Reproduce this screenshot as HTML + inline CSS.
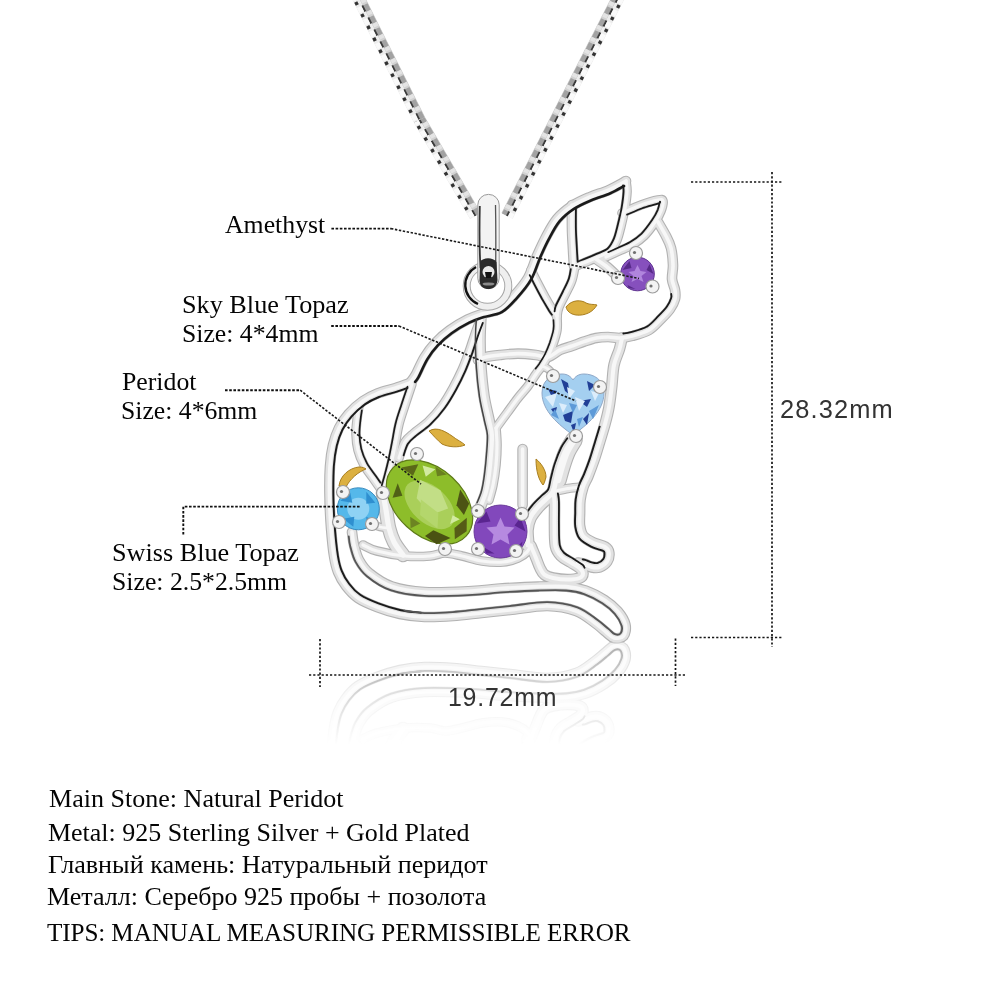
<!DOCTYPE html>
<html><head><meta charset="utf-8">
<style>
html,body{margin:0;padding:0;background:#fff;}
body{width:1000px;height:1000px;position:relative;overflow:hidden;}
</style></head><body>
<svg width="1000" height="1000" viewBox="0 0 1000 1000" style="position:absolute;left:0;top:0"><g transform="translate(357.5,-4) rotate(63.43)"><clipPath id="chc1"><rect x="0" y="-6.5" width="138.6" height="13"/></clipPath><g clip-path="url(#chc1)"><rect x="0" y="-6.5" width="138.6" height="6.5" fill="#d2d2d2"/><rect x="0" y="0" width="138.6" height="6.5" fill="#ededed"/><rect x="-15.9" y="-5.7" width="7.4" height="4.9" fill="#a2a2a2"/><rect x="-8.5" y="-5.7" width="4.0" height="4.9" fill="#e4e4e4"/><rect x="-16.2" y="-1.0" width="6.7" height="2.0" fill="#3a3a3a"/><rect x="-16.2" y="1.0" width="6.0" height="4.9" fill="#fafafa"/><rect x="-8.9" y="2.5" width="3.4" height="3.4" fill="#333"/><rect x="-2.5" y="-5.7" width="7.4" height="4.9" fill="#a2a2a2"/><rect x="4.9" y="-5.7" width="4.0" height="4.9" fill="#e4e4e4"/><rect x="-2.8" y="-1.0" width="6.7" height="2.0" fill="#3a3a3a"/><rect x="-2.8" y="1.0" width="6.0" height="4.9" fill="#fafafa"/><rect x="4.5" y="2.5" width="3.4" height="3.4" fill="#333"/><rect x="10.9" y="-5.7" width="7.4" height="4.9" fill="#a2a2a2"/><rect x="18.3" y="-5.7" width="4.0" height="4.9" fill="#e4e4e4"/><rect x="10.6" y="-1.0" width="6.7" height="2.0" fill="#3a3a3a"/><rect x="10.6" y="1.0" width="6.0" height="4.9" fill="#fafafa"/><rect x="17.9" y="2.5" width="3.4" height="3.4" fill="#333"/><rect x="24.3" y="-5.7" width="7.4" height="4.9" fill="#a2a2a2"/><rect x="31.7" y="-5.7" width="4.0" height="4.9" fill="#e4e4e4"/><rect x="24.0" y="-1.0" width="6.7" height="2.0" fill="#3a3a3a"/><rect x="24.0" y="1.0" width="6.0" height="4.9" fill="#fafafa"/><rect x="31.3" y="2.5" width="3.4" height="3.4" fill="#333"/><rect x="37.7" y="-5.7" width="7.4" height="4.9" fill="#a2a2a2"/><rect x="45.1" y="-5.7" width="4.0" height="4.9" fill="#e4e4e4"/><rect x="37.4" y="-1.0" width="6.7" height="2.0" fill="#3a3a3a"/><rect x="37.4" y="1.0" width="6.0" height="4.9" fill="#fafafa"/><rect x="44.7" y="2.5" width="3.4" height="3.4" fill="#333"/><rect x="51.1" y="-5.7" width="7.4" height="4.9" fill="#a2a2a2"/><rect x="58.5" y="-5.7" width="4.0" height="4.9" fill="#e4e4e4"/><rect x="50.8" y="-1.0" width="6.7" height="2.0" fill="#3a3a3a"/><rect x="50.8" y="1.0" width="6.0" height="4.9" fill="#fafafa"/><rect x="58.1" y="2.5" width="3.4" height="3.4" fill="#333"/><rect x="64.5" y="-5.7" width="7.4" height="4.9" fill="#a2a2a2"/><rect x="71.9" y="-5.7" width="4.0" height="4.9" fill="#e4e4e4"/><rect x="64.2" y="-1.0" width="6.7" height="2.0" fill="#3a3a3a"/><rect x="64.2" y="1.0" width="6.0" height="4.9" fill="#fafafa"/><rect x="71.5" y="2.5" width="3.4" height="3.4" fill="#333"/><rect x="77.9" y="-5.7" width="7.4" height="4.9" fill="#a2a2a2"/><rect x="85.3" y="-5.7" width="4.0" height="4.9" fill="#e4e4e4"/><rect x="77.6" y="-1.0" width="6.7" height="2.0" fill="#3a3a3a"/><rect x="77.6" y="1.0" width="6.0" height="4.9" fill="#fafafa"/><rect x="84.9" y="2.5" width="3.4" height="3.4" fill="#333"/><rect x="91.3" y="-5.7" width="7.4" height="4.9" fill="#a2a2a2"/><rect x="98.7" y="-5.7" width="4.0" height="4.9" fill="#e4e4e4"/><rect x="91.0" y="-1.0" width="6.7" height="2.0" fill="#3a3a3a"/><rect x="91.0" y="1.0" width="6.0" height="4.9" fill="#fafafa"/><rect x="98.3" y="2.5" width="3.4" height="3.4" fill="#333"/><rect x="104.7" y="-5.7" width="7.4" height="4.9" fill="#a2a2a2"/><rect x="112.1" y="-5.7" width="4.0" height="4.9" fill="#e4e4e4"/><rect x="104.4" y="-1.0" width="6.7" height="2.0" fill="#3a3a3a"/><rect x="104.4" y="1.0" width="6.0" height="4.9" fill="#fafafa"/><rect x="111.7" y="2.5" width="3.4" height="3.4" fill="#333"/><rect x="118.1" y="-5.7" width="7.4" height="4.9" fill="#a2a2a2"/><rect x="125.5" y="-5.7" width="4.0" height="4.9" fill="#e4e4e4"/><rect x="117.8" y="-1.0" width="6.7" height="2.0" fill="#3a3a3a"/><rect x="117.8" y="1.0" width="6.0" height="4.9" fill="#fafafa"/><rect x="125.1" y="2.5" width="3.4" height="3.4" fill="#333"/><rect x="131.5" y="-5.7" width="7.4" height="4.9" fill="#a2a2a2"/><rect x="138.9" y="-5.7" width="4.0" height="4.9" fill="#e4e4e4"/><rect x="131.2" y="-1.0" width="6.7" height="2.0" fill="#3a3a3a"/><rect x="131.2" y="1.0" width="6.0" height="4.9" fill="#fafafa"/><rect x="138.5" y="2.5" width="3.4" height="3.4" fill="#333"/><rect x="144.9" y="-5.7" width="7.4" height="4.9" fill="#a2a2a2"/><rect x="152.3" y="-5.7" width="4.0" height="4.9" fill="#e4e4e4"/><rect x="144.6" y="-1.0" width="6.7" height="2.0" fill="#3a3a3a"/><rect x="144.6" y="1.0" width="6.0" height="4.9" fill="#fafafa"/><rect x="151.9" y="2.5" width="3.4" height="3.4" fill="#333"/></g></g><g transform="translate(419.5,120) rotate(59.74)"><clipPath id="chc2"><rect x="0" y="-6.5" width="111.1" height="13"/></clipPath><g clip-path="url(#chc2)"><rect x="0" y="-6.5" width="111.1" height="6.5" fill="#d2d2d2"/><rect x="0" y="0" width="111.1" height="6.5" fill="#ededed"/><rect x="-15.9" y="-5.7" width="7.4" height="4.9" fill="#a2a2a2"/><rect x="-8.5" y="-5.7" width="4.0" height="4.9" fill="#e4e4e4"/><rect x="-16.2" y="-1.0" width="6.7" height="2.0" fill="#3a3a3a"/><rect x="-16.2" y="1.0" width="6.0" height="4.9" fill="#fafafa"/><rect x="-8.9" y="2.5" width="3.4" height="3.4" fill="#333"/><rect x="-2.5" y="-5.7" width="7.4" height="4.9" fill="#a2a2a2"/><rect x="4.9" y="-5.7" width="4.0" height="4.9" fill="#e4e4e4"/><rect x="-2.8" y="-1.0" width="6.7" height="2.0" fill="#3a3a3a"/><rect x="-2.8" y="1.0" width="6.0" height="4.9" fill="#fafafa"/><rect x="4.5" y="2.5" width="3.4" height="3.4" fill="#333"/><rect x="10.9" y="-5.7" width="7.4" height="4.9" fill="#a2a2a2"/><rect x="18.3" y="-5.7" width="4.0" height="4.9" fill="#e4e4e4"/><rect x="10.6" y="-1.0" width="6.7" height="2.0" fill="#3a3a3a"/><rect x="10.6" y="1.0" width="6.0" height="4.9" fill="#fafafa"/><rect x="17.9" y="2.5" width="3.4" height="3.4" fill="#333"/><rect x="24.3" y="-5.7" width="7.4" height="4.9" fill="#a2a2a2"/><rect x="31.7" y="-5.7" width="4.0" height="4.9" fill="#e4e4e4"/><rect x="24.0" y="-1.0" width="6.7" height="2.0" fill="#3a3a3a"/><rect x="24.0" y="1.0" width="6.0" height="4.9" fill="#fafafa"/><rect x="31.3" y="2.5" width="3.4" height="3.4" fill="#333"/><rect x="37.7" y="-5.7" width="7.4" height="4.9" fill="#a2a2a2"/><rect x="45.1" y="-5.7" width="4.0" height="4.9" fill="#e4e4e4"/><rect x="37.4" y="-1.0" width="6.7" height="2.0" fill="#3a3a3a"/><rect x="37.4" y="1.0" width="6.0" height="4.9" fill="#fafafa"/><rect x="44.7" y="2.5" width="3.4" height="3.4" fill="#333"/><rect x="51.1" y="-5.7" width="7.4" height="4.9" fill="#a2a2a2"/><rect x="58.5" y="-5.7" width="4.0" height="4.9" fill="#e4e4e4"/><rect x="50.8" y="-1.0" width="6.7" height="2.0" fill="#3a3a3a"/><rect x="50.8" y="1.0" width="6.0" height="4.9" fill="#fafafa"/><rect x="58.1" y="2.5" width="3.4" height="3.4" fill="#333"/><rect x="64.5" y="-5.7" width="7.4" height="4.9" fill="#a2a2a2"/><rect x="71.9" y="-5.7" width="4.0" height="4.9" fill="#e4e4e4"/><rect x="64.2" y="-1.0" width="6.7" height="2.0" fill="#3a3a3a"/><rect x="64.2" y="1.0" width="6.0" height="4.9" fill="#fafafa"/><rect x="71.5" y="2.5" width="3.4" height="3.4" fill="#333"/><rect x="77.9" y="-5.7" width="7.4" height="4.9" fill="#a2a2a2"/><rect x="85.3" y="-5.7" width="4.0" height="4.9" fill="#e4e4e4"/><rect x="77.6" y="-1.0" width="6.7" height="2.0" fill="#3a3a3a"/><rect x="77.6" y="1.0" width="6.0" height="4.9" fill="#fafafa"/><rect x="84.9" y="2.5" width="3.4" height="3.4" fill="#333"/><rect x="91.3" y="-5.7" width="7.4" height="4.9" fill="#a2a2a2"/><rect x="98.7" y="-5.7" width="4.0" height="4.9" fill="#e4e4e4"/><rect x="91.0" y="-1.0" width="6.7" height="2.0" fill="#3a3a3a"/><rect x="91.0" y="1.0" width="6.0" height="4.9" fill="#fafafa"/><rect x="98.3" y="2.5" width="3.4" height="3.4" fill="#333"/><rect x="104.7" y="-5.7" width="7.4" height="4.9" fill="#a2a2a2"/><rect x="112.1" y="-5.7" width="4.0" height="4.9" fill="#e4e4e4"/><rect x="104.4" y="-1.0" width="6.7" height="2.0" fill="#3a3a3a"/><rect x="104.4" y="1.0" width="6.0" height="4.9" fill="#fafafa"/><rect x="111.7" y="2.5" width="3.4" height="3.4" fill="#333"/><rect x="118.1" y="-5.7" width="7.4" height="4.9" fill="#a2a2a2"/><rect x="125.5" y="-5.7" width="4.0" height="4.9" fill="#e4e4e4"/><rect x="117.8" y="-1.0" width="6.7" height="2.0" fill="#3a3a3a"/><rect x="117.8" y="1.0" width="6.0" height="4.9" fill="#fafafa"/><rect x="125.1" y="2.5" width="3.4" height="3.4" fill="#333"/></g></g><g transform="translate(619,-4) rotate(116.98)"><clipPath id="chc3"><rect x="0" y="-6.5" width="246.9" height="13"/></clipPath><g clip-path="url(#chc3)"><rect x="0" y="0" width="246.9" height="6.5" fill="#d2d2d2"/><rect x="0" y="-6.5" width="246.9" height="6.5" fill="#ededed"/><rect x="-12.4" y="0.8" width="7.4" height="4.9" fill="#a2a2a2"/><rect x="-5.0" y="0.8" width="4.0" height="4.9" fill="#e4e4e4"/><rect x="-12.7" y="-1.0" width="6.7" height="2.0" fill="#3a3a3a"/><rect x="-12.7" y="-5.9" width="6.0" height="4.9" fill="#fafafa"/><rect x="-5.4" y="-5.9" width="3.4" height="3.4" fill="#333"/><rect x="1.0" y="0.8" width="7.4" height="4.9" fill="#a2a2a2"/><rect x="8.4" y="0.8" width="4.0" height="4.9" fill="#e4e4e4"/><rect x="0.7" y="-1.0" width="6.7" height="2.0" fill="#3a3a3a"/><rect x="0.7" y="-5.9" width="6.0" height="4.9" fill="#fafafa"/><rect x="8.0" y="-5.9" width="3.4" height="3.4" fill="#333"/><rect x="14.4" y="0.8" width="7.4" height="4.9" fill="#a2a2a2"/><rect x="21.8" y="0.8" width="4.0" height="4.9" fill="#e4e4e4"/><rect x="14.1" y="-1.0" width="6.7" height="2.0" fill="#3a3a3a"/><rect x="14.1" y="-5.9" width="6.0" height="4.9" fill="#fafafa"/><rect x="21.4" y="-5.9" width="3.4" height="3.4" fill="#333"/><rect x="27.8" y="0.8" width="7.4" height="4.9" fill="#a2a2a2"/><rect x="35.2" y="0.8" width="4.0" height="4.9" fill="#e4e4e4"/><rect x="27.5" y="-1.0" width="6.7" height="2.0" fill="#3a3a3a"/><rect x="27.5" y="-5.9" width="6.0" height="4.9" fill="#fafafa"/><rect x="34.8" y="-5.9" width="3.4" height="3.4" fill="#333"/><rect x="41.2" y="0.8" width="7.4" height="4.9" fill="#a2a2a2"/><rect x="48.6" y="0.8" width="4.0" height="4.9" fill="#e4e4e4"/><rect x="40.9" y="-1.0" width="6.7" height="2.0" fill="#3a3a3a"/><rect x="40.9" y="-5.9" width="6.0" height="4.9" fill="#fafafa"/><rect x="48.2" y="-5.9" width="3.4" height="3.4" fill="#333"/><rect x="54.6" y="0.8" width="7.4" height="4.9" fill="#a2a2a2"/><rect x="62.0" y="0.8" width="4.0" height="4.9" fill="#e4e4e4"/><rect x="54.3" y="-1.0" width="6.7" height="2.0" fill="#3a3a3a"/><rect x="54.3" y="-5.9" width="6.0" height="4.9" fill="#fafafa"/><rect x="61.6" y="-5.9" width="3.4" height="3.4" fill="#333"/><rect x="68.0" y="0.8" width="7.4" height="4.9" fill="#a2a2a2"/><rect x="75.4" y="0.8" width="4.0" height="4.9" fill="#e4e4e4"/><rect x="67.7" y="-1.0" width="6.7" height="2.0" fill="#3a3a3a"/><rect x="67.7" y="-5.9" width="6.0" height="4.9" fill="#fafafa"/><rect x="75.0" y="-5.9" width="3.4" height="3.4" fill="#333"/><rect x="81.4" y="0.8" width="7.4" height="4.9" fill="#a2a2a2"/><rect x="88.8" y="0.8" width="4.0" height="4.9" fill="#e4e4e4"/><rect x="81.1" y="-1.0" width="6.7" height="2.0" fill="#3a3a3a"/><rect x="81.1" y="-5.9" width="6.0" height="4.9" fill="#fafafa"/><rect x="88.4" y="-5.9" width="3.4" height="3.4" fill="#333"/><rect x="94.8" y="0.8" width="7.4" height="4.9" fill="#a2a2a2"/><rect x="102.2" y="0.8" width="4.0" height="4.9" fill="#e4e4e4"/><rect x="94.5" y="-1.0" width="6.7" height="2.0" fill="#3a3a3a"/><rect x="94.5" y="-5.9" width="6.0" height="4.9" fill="#fafafa"/><rect x="101.8" y="-5.9" width="3.4" height="3.4" fill="#333"/><rect x="108.2" y="0.8" width="7.4" height="4.9" fill="#a2a2a2"/><rect x="115.6" y="0.8" width="4.0" height="4.9" fill="#e4e4e4"/><rect x="107.9" y="-1.0" width="6.7" height="2.0" fill="#3a3a3a"/><rect x="107.9" y="-5.9" width="6.0" height="4.9" fill="#fafafa"/><rect x="115.2" y="-5.9" width="3.4" height="3.4" fill="#333"/><rect x="121.6" y="0.8" width="7.4" height="4.9" fill="#a2a2a2"/><rect x="129.0" y="0.8" width="4.0" height="4.9" fill="#e4e4e4"/><rect x="121.3" y="-1.0" width="6.7" height="2.0" fill="#3a3a3a"/><rect x="121.3" y="-5.9" width="6.0" height="4.9" fill="#fafafa"/><rect x="128.6" y="-5.9" width="3.4" height="3.4" fill="#333"/><rect x="135.0" y="0.8" width="7.4" height="4.9" fill="#a2a2a2"/><rect x="142.4" y="0.8" width="4.0" height="4.9" fill="#e4e4e4"/><rect x="134.7" y="-1.0" width="6.7" height="2.0" fill="#3a3a3a"/><rect x="134.7" y="-5.9" width="6.0" height="4.9" fill="#fafafa"/><rect x="142.0" y="-5.9" width="3.4" height="3.4" fill="#333"/><rect x="148.4" y="0.8" width="7.4" height="4.9" fill="#a2a2a2"/><rect x="155.8" y="0.8" width="4.0" height="4.9" fill="#e4e4e4"/><rect x="148.1" y="-1.0" width="6.7" height="2.0" fill="#3a3a3a"/><rect x="148.1" y="-5.9" width="6.0" height="4.9" fill="#fafafa"/><rect x="155.4" y="-5.9" width="3.4" height="3.4" fill="#333"/><rect x="161.8" y="0.8" width="7.4" height="4.9" fill="#a2a2a2"/><rect x="169.2" y="0.8" width="4.0" height="4.9" fill="#e4e4e4"/><rect x="161.5" y="-1.0" width="6.7" height="2.0" fill="#3a3a3a"/><rect x="161.5" y="-5.9" width="6.0" height="4.9" fill="#fafafa"/><rect x="168.8" y="-5.9" width="3.4" height="3.4" fill="#333"/><rect x="175.2" y="0.8" width="7.4" height="4.9" fill="#a2a2a2"/><rect x="182.6" y="0.8" width="4.0" height="4.9" fill="#e4e4e4"/><rect x="174.9" y="-1.0" width="6.7" height="2.0" fill="#3a3a3a"/><rect x="174.9" y="-5.9" width="6.0" height="4.9" fill="#fafafa"/><rect x="182.2" y="-5.9" width="3.4" height="3.4" fill="#333"/><rect x="188.6" y="0.8" width="7.4" height="4.9" fill="#a2a2a2"/><rect x="196.0" y="0.8" width="4.0" height="4.9" fill="#e4e4e4"/><rect x="188.3" y="-1.0" width="6.7" height="2.0" fill="#3a3a3a"/><rect x="188.3" y="-5.9" width="6.0" height="4.9" fill="#fafafa"/><rect x="195.6" y="-5.9" width="3.4" height="3.4" fill="#333"/><rect x="202.0" y="0.8" width="7.4" height="4.9" fill="#a2a2a2"/><rect x="209.4" y="0.8" width="4.0" height="4.9" fill="#e4e4e4"/><rect x="201.7" y="-1.0" width="6.7" height="2.0" fill="#3a3a3a"/><rect x="201.7" y="-5.9" width="6.0" height="4.9" fill="#fafafa"/><rect x="209.0" y="-5.9" width="3.4" height="3.4" fill="#333"/><rect x="215.4" y="0.8" width="7.4" height="4.9" fill="#a2a2a2"/><rect x="222.8" y="0.8" width="4.0" height="4.9" fill="#e4e4e4"/><rect x="215.1" y="-1.0" width="6.7" height="2.0" fill="#3a3a3a"/><rect x="215.1" y="-5.9" width="6.0" height="4.9" fill="#fafafa"/><rect x="222.4" y="-5.9" width="3.4" height="3.4" fill="#333"/><rect x="228.8" y="0.8" width="7.4" height="4.9" fill="#a2a2a2"/><rect x="236.2" y="0.8" width="4.0" height="4.9" fill="#e4e4e4"/><rect x="228.5" y="-1.0" width="6.7" height="2.0" fill="#3a3a3a"/><rect x="228.5" y="-5.9" width="6.0" height="4.9" fill="#fafafa"/><rect x="235.8" y="-5.9" width="3.4" height="3.4" fill="#333"/><rect x="242.2" y="0.8" width="7.4" height="4.9" fill="#a2a2a2"/><rect x="249.6" y="0.8" width="4.0" height="4.9" fill="#e4e4e4"/><rect x="241.9" y="-1.0" width="6.7" height="2.0" fill="#3a3a3a"/><rect x="241.9" y="-5.9" width="6.0" height="4.9" fill="#fafafa"/><rect x="249.2" y="-5.9" width="3.4" height="3.4" fill="#333"/><rect x="255.6" y="0.8" width="7.4" height="4.9" fill="#a2a2a2"/><rect x="263.0" y="0.8" width="4.0" height="4.9" fill="#e4e4e4"/><rect x="255.3" y="-1.0" width="6.7" height="2.0" fill="#3a3a3a"/><rect x="255.3" y="-5.9" width="6.0" height="4.9" fill="#fafafa"/><rect x="262.6" y="-5.9" width="3.4" height="3.4" fill="#333"/></g></g><g id="pend"><g fill="none" stroke-linecap="round" stroke-linejoin="round"><path d="M626.0 181.0 C623.2 182.5 615.0 187.3 609.0 190.0 C603.0 192.7 596.2 194.3 590.0 197.0 C583.8 199.7 577.5 202.3 572.0 206.0 C566.5 209.7 561.3 213.8 557.0 219.0 C552.7 224.2 549.3 230.8 546.0 237.0 C542.7 243.2 540.0 249.2 537.0 256.0 C534.0 262.8 531.8 271.3 528.0 278.0 C524.2 284.7 518.7 290.8 514.0 296.0 C509.3 301.2 505.3 306.0 500.0 309.0 C494.7 312.0 487.4 312.2 482.0 314.0 C476.6 315.8 473.0 316.9 467.6 319.6 C462.2 322.3 455.0 326.5 449.6 330.4 C444.2 334.3 439.4 338.5 435.2 343.0 C431.0 347.5 427.7 352.0 424.4 357.4 C421.1 362.8 417.8 371.1 415.4 375.4 C413.0 379.7 410.9 381.7 410.0 383.0" stroke="#b2b2b2" stroke-width="10.6" /><path d="M410.0 383.0 C407.6 383.8 401.0 386.3 395.6 388.0 C390.2 389.7 383.0 391.2 377.6 393.4 C372.2 395.6 367.9 397.6 363.0 401.0 C358.1 404.4 352.5 409.5 348.5 414.0 C344.5 418.5 341.6 422.8 339.0 428.0 C336.4 433.2 334.5 438.7 333.0 445.0 C331.5 451.3 330.6 457.5 330.0 466.0 C329.4 474.5 329.3 485.7 329.5 496.0 C329.7 506.3 330.2 518.0 331.0 528.0 C331.8 538.0 332.8 548.7 334.0 556.0 C335.2 563.3 336.0 567.0 338.0 572.0 C340.0 577.0 342.7 581.7 346.0 586.0 C349.3 590.3 352.8 594.5 358.0 598.0 C363.2 601.5 370.0 604.3 377.0 607.0 C384.0 609.7 392.1 612.3 400.0 614.0 C407.9 615.7 415.7 616.7 424.5 617.0 C433.3 617.3 443.5 616.7 453.0 616.0 C462.5 615.3 472.0 614.0 481.5 613.0 C491.0 612.0 499.0 611.2 510.0 610.0 C521.0 608.8 536.5 605.8 547.5 606.0 C558.5 606.2 568.1 608.2 576.0 611.0 C583.9 613.8 590.0 619.5 595.0 623.0 C600.0 626.5 602.8 629.5 606.0 632.0 C609.2 634.5 611.1 637.3 614.0 638.0 C616.9 638.7 621.6 638.2 623.5 636.0 C625.4 633.8 626.4 628.7 625.4 624.6 C624.4 620.5 621.3 615.4 617.8 611.3 C614.3 607.2 609.9 603.5 604.5 600.0 C599.1 596.5 591.8 592.6 585.5 590.4 C579.2 588.2 574.4 587.2 566.5 586.6 C558.6 586.0 549.1 586.3 538.0 586.6 C526.9 586.9 511.0 587.8 500.0 588.5 C489.0 589.2 484.6 590.4 472.0 591.0 C459.4 591.6 437.8 592.8 424.5 592.0 C411.2 591.2 401.2 589.6 392.0 586.5 C382.8 583.4 374.9 577.6 369.4 573.2 C363.9 568.8 361.6 564.7 359.0 560.0 C356.4 555.3 355.2 549.7 354.0 545.0 C352.8 540.3 352.3 534.2 352.0 532.0" stroke="#b2b2b2" stroke-width="10.6" /><path d="M626.0 181.0 C626.2 182.8 627.2 187.5 627.0 192.0 C626.8 196.5 626.0 202.3 625.0 208.0 C624.0 213.7 622.3 220.7 621.0 226.0 C619.7 231.3 618.8 235.8 617.0 240.0 C615.2 244.2 613.2 248.2 610.0 251.0 C606.8 253.8 602.0 255.2 598.0 257.0 C594.0 258.8 589.7 260.5 586.0 262.0 C582.3 263.5 577.7 265.3 576.0 266.0" stroke="#b2b2b2" stroke-width="9.6" /><path d="M572.0 205.0 C572.0 209.2 571.8 222.5 572.0 230.0 C572.2 237.5 572.7 244.0 573.0 250.0 C573.3 256.0 573.8 263.3 574.0 266.0" stroke="#b2b2b2" stroke-width="10.6" /><path d="M575.0 266.0 C574.5 268.3 573.5 275.5 572.0 280.0 C570.5 284.5 568.2 288.5 566.0 293.0 C563.8 297.5 560.5 303.2 559.0 307.0 C557.5 310.8 557.3 314.5 557.0 316.0" stroke="#b2b2b2" stroke-width="9.6" /><path d="M531.0 270.0 C532.0 272.0 534.7 277.5 537.0 282.0 C539.3 286.5 542.5 292.5 545.0 297.0 C547.5 301.5 550.0 305.8 552.0 309.0 C554.0 312.2 556.2 314.8 557.0 316.0" stroke="#b2b2b2" stroke-width="9.6" /><path d="M557.0 316.0 C557.0 318.3 557.7 325.3 557.0 330.0 C556.3 334.7 554.5 339.7 553.0 344.0 C551.5 348.3 549.8 352.3 548.0 356.0 C546.2 359.7 544.0 363.0 542.0 366.0 C540.0 369.0 538.3 370.7 536.0 374.0 C533.7 377.3 531.0 382.0 528.0 386.0 C525.0 390.0 521.5 393.5 518.0 398.0 C514.5 402.5 510.7 408.0 507.0 413.0 C503.3 418.0 497.8 425.5 496.0 428.0" stroke="#b2b2b2" stroke-width="9.6" /><path d="M622.0 213.0 C625.2 211.7 635.0 207.2 641.0 205.0 C647.0 202.8 654.3 200.7 658.0 200.0 C661.7 199.3 662.5 199.2 663.0 201.0 C663.5 202.8 662.3 207.5 661.0 211.0 C659.7 214.5 657.8 217.8 655.0 222.0 C652.2 226.2 647.8 232.2 644.0 236.0 C640.2 239.8 636.2 242.5 632.0 245.0 C627.8 247.5 623.3 249.0 619.0 251.0 C614.7 253.0 608.2 256.0 606.0 257.0" stroke="#b2b2b2" stroke-width="9.6" /><path d="M658.0 222.0 C659.3 224.3 663.8 231.7 666.0 236.0 C668.2 240.3 669.8 243.2 671.0 248.0 C672.2 252.8 672.8 259.8 673.0 265.0 C673.2 270.2 671.7 274.8 672.0 279.0 C672.3 283.2 674.5 286.7 675.0 290.0 C675.5 293.3 675.8 295.8 675.0 299.0 C674.2 302.2 672.3 305.7 670.0 309.0 C667.7 312.3 664.5 315.5 661.0 319.0 C657.5 322.5 653.8 327.2 649.0 330.0 C644.2 332.8 636.8 334.7 632.0 336.0 C627.2 337.3 624.0 337.8 620.0 338.0 C616.0 338.2 612.0 337.0 608.0 337.0 C604.0 337.0 600.0 337.2 596.0 338.0 C592.0 338.8 588.0 340.3 584.0 341.6 C580.0 342.9 576.0 344.6 572.0 346.0 C568.0 347.4 564.0 348.2 560.0 350.0 C556.0 351.8 552.0 356.2 548.0 357.0 C544.0 357.8 541.0 355.6 536.0 355.0 C531.0 354.4 524.0 353.6 518.0 353.6 C512.0 353.6 505.3 354.4 500.0 355.0 C494.7 355.6 489.7 356.2 486.0 357.0 C482.3 357.8 479.3 359.5 478.0 360.0" stroke="#b2b2b2" stroke-width="10.6" /><path d="M622.0 338.0 C621.6 339.8 620.8 344.5 619.5 349.0 C618.2 353.5 615.3 358.8 614.0 365.0 C612.7 371.2 612.6 379.0 611.8 386.0 C611.0 393.0 610.1 400.7 609.0 407.0 C607.9 413.3 606.7 417.8 605.0 424.0 C603.3 430.2 600.8 438.0 599.0 444.0 C597.2 450.0 595.8 454.7 594.0 460.0 C592.2 465.3 589.8 471.5 588.0 476.0 C586.2 480.5 584.3 483.0 583.0 487.0 C581.7 491.0 580.6 495.7 580.0 500.0 C579.4 504.3 579.7 508.7 579.6 513.0 C579.5 517.3 579.0 522.2 579.6 526.0 C580.2 529.8 580.8 533.2 583.0 536.0 C585.2 538.8 589.3 540.9 593.0 542.7 C596.7 544.5 602.4 545.4 605.0 547.0 C607.6 548.6 608.5 550.2 608.8 552.6 C609.1 555.0 608.6 559.0 607.0 561.4 C605.4 563.8 601.9 566.1 599.4 567.0 C596.9 567.9 594.3 567.5 591.7 567.0 C589.1 566.5 586.3 564.7 584.0 564.0 C581.7 563.3 579.0 563.2 578.0 563.0" stroke="#b2b2b2" stroke-width="11.6" /><path d="M556.0 491.0 C558.0 490.6 563.8 489.2 568.0 488.5 C572.2 487.8 578.8 487.2 581.0 487.0" stroke="#b2b2b2" stroke-width="9.6" /><path d="M553.0 374.0 C552.2 373.2 549.8 370.3 548.0 369.0 C546.2 367.7 543.0 366.5 542.0 366.0" stroke="#b2b2b2" stroke-width="8.6" /><path d="M574.0 438.0 C572.7 440.0 568.3 445.5 566.0 450.0 C563.7 454.5 561.7 460.0 560.0 465.0 C558.3 470.0 557.2 475.5 556.0 480.0 C554.8 484.5 554.7 488.8 553.0 492.0 C551.3 495.2 548.7 496.3 546.0 499.0 C543.3 501.7 539.7 504.8 537.0 508.0 C534.3 511.2 531.7 514.3 530.0 518.0 C528.3 521.7 527.3 525.5 527.0 530.0 C526.7 534.5 527.8 542.5 528.0 545.0" stroke="#b2b2b2" stroke-width="13.6" /><path d="M574.0 440.0 C572.8 442.0 569.0 447.7 567.0 452.0 C565.0 456.3 563.5 461.3 562.0 466.0 C560.5 470.7 558.7 477.7 558.0 480.0" stroke="#b2b2b2" stroke-width="17.6" /><path d="M553.0 490.0 C553.2 492.0 554.2 496.3 554.5 502.0 C554.8 507.7 554.4 516.7 554.5 524.0 C554.6 531.3 554.3 540.7 555.4 546.0 C556.5 551.3 558.4 553.2 561.0 556.0 C563.6 558.8 567.9 560.5 571.0 562.5 C574.1 564.5 577.6 566.2 579.6 568.0 C581.6 569.8 583.0 571.8 583.0 573.5 C583.0 575.2 582.2 577.0 579.6 578.0 C577.0 579.0 571.9 579.6 567.5 579.6 C563.1 579.6 556.9 578.8 553.0 578.0 C549.1 577.2 546.6 576.3 544.4 574.6 C542.2 572.9 541.4 570.8 540.0 568.0 C538.6 565.2 537.5 561.7 536.0 558.0 C534.5 554.3 531.8 548.0 531.0 546.0" stroke="#b2b2b2" stroke-width="11.6" /><path d="M522.6 449.0 C522.6 458.3 522.6 495.7 522.6 505.0" stroke="#b2b2b2" stroke-width="10.6" /><path d="M363.0 545.0 C365.3 546.0 370.0 549.2 377.0 551.0 C384.0 552.8 396.2 555.2 405.0 556.0 C413.8 556.8 423.3 556.5 430.0 556.0 C436.7 555.5 439.7 553.0 445.0 553.0 C450.3 553.0 455.8 554.7 462.0 556.0 C468.2 557.3 475.2 560.0 482.0 561.0 C488.8 562.0 497.0 562.5 503.0 562.0 C509.0 561.5 514.0 559.7 518.0 558.0 C522.0 556.3 524.8 554.2 527.0 552.0 C529.2 549.8 530.3 546.2 531.0 545.0" stroke="#b2b2b2" stroke-width="9.6" /><path d="M383.0 493.0 C383.5 495.8 385.0 504.2 386.0 510.0 C387.0 515.8 387.7 522.7 389.0 528.0 C390.3 533.3 391.7 537.5 394.0 542.0 C396.3 546.5 401.5 552.8 403.0 555.0" stroke="#b2b2b2" stroke-width="14.6" /><path d="M359.0 406.0 C358.7 408.3 357.5 415.3 357.0 420.0 C356.5 424.7 355.8 429.0 356.0 434.0 C356.2 439.0 356.7 444.8 358.0 450.0 C359.3 455.2 361.5 460.3 364.0 465.0 C366.5 469.7 370.3 474.2 373.0 478.0 C375.7 481.8 378.8 486.3 380.0 488.0" stroke="#b2b2b2" stroke-width="9.6" /><path d="M412.0 384.0 C410.8 387.5 407.2 398.3 405.0 405.0 C402.8 411.7 400.6 417.8 399.0 424.0 C397.4 430.2 396.8 436.0 395.6 442.0 C394.4 448.0 393.3 454.3 392.0 460.0 C390.7 465.7 389.3 471.0 388.0 476.0 C386.7 481.0 384.7 487.7 384.0 490.0" stroke="#b2b2b2" stroke-width="9.6" /><path d="M481.0 318.0 C480.0 320.7 477.0 328.3 475.0 334.0 C473.0 339.7 471.2 346.0 469.0 352.0 C466.8 358.0 464.7 364.0 462.0 370.0 C459.3 376.0 456.3 382.0 453.0 388.0 C449.7 394.0 446.2 400.3 442.0 406.0 C437.8 411.7 432.7 417.5 428.0 422.0 C423.3 426.5 417.8 429.7 414.0 433.0 C410.2 436.3 407.5 437.8 405.0 442.0 C402.5 446.2 400.0 455.3 399.0 458.0" stroke="#b2b2b2" stroke-width="9.6" /><path d="M481.0 316.0 C480.8 320.0 480.0 331.3 480.0 340.0 C480.0 348.7 480.3 358.7 481.0 368.0 C481.7 377.3 482.7 387.3 484.0 396.0 C485.3 404.7 487.7 413.5 489.0 420.0 C490.3 426.5 491.7 429.2 492.0 435.0 C492.3 440.8 491.5 448.3 491.0 455.0 C490.5 461.7 489.8 468.8 489.0 475.0 C488.2 481.2 487.5 486.5 486.0 492.0 C484.5 497.5 481.0 505.3 480.0 508.0" stroke="#b2b2b2" stroke-width="11.6" /><path d="M496.0 428.0 C496.2 430.8 497.0 438.8 497.0 445.0 C497.0 451.2 496.7 458.3 496.0 465.0 C495.3 471.7 494.2 479.2 493.0 485.0 C491.8 490.8 489.7 497.5 489.0 500.0" stroke="#b2b2b2" stroke-width="9.6" /><path d="M372.0 524.0 C373.3 524.5 377.2 526.3 380.0 527.0 C382.8 527.7 387.5 527.8 389.0 528.0" stroke="#b2b2b2" stroke-width="8.6" /><path d="M596.0 259.0 C597.7 260.2 602.5 263.2 606.0 266.0 C609.5 268.8 615.2 274.3 617.0 276.0" stroke="#b2b2b2" stroke-width="10.6" /><path d="M626.0 181.0 C623.2 182.5 615.0 187.3 609.0 190.0 C603.0 192.7 596.2 194.3 590.0 197.0 C583.8 199.7 577.5 202.3 572.0 206.0 C566.5 209.7 561.3 213.8 557.0 219.0 C552.7 224.2 549.3 230.8 546.0 237.0 C542.7 243.2 540.0 249.2 537.0 256.0 C534.0 262.8 531.8 271.3 528.0 278.0 C524.2 284.7 518.7 290.8 514.0 296.0 C509.3 301.2 505.3 306.0 500.0 309.0 C494.7 312.0 487.4 312.2 482.0 314.0 C476.6 315.8 473.0 316.9 467.6 319.6 C462.2 322.3 455.0 326.5 449.6 330.4 C444.2 334.3 439.4 338.5 435.2 343.0 C431.0 347.5 427.7 352.0 424.4 357.4 C421.1 362.8 417.8 371.1 415.4 375.4 C413.0 379.7 410.9 381.7 410.0 383.0" stroke="#e2e2e2" stroke-width="8.4" /><path d="M410.0 383.0 C407.6 383.8 401.0 386.3 395.6 388.0 C390.2 389.7 383.0 391.2 377.6 393.4 C372.2 395.6 367.9 397.6 363.0 401.0 C358.1 404.4 352.5 409.5 348.5 414.0 C344.5 418.5 341.6 422.8 339.0 428.0 C336.4 433.2 334.5 438.7 333.0 445.0 C331.5 451.3 330.6 457.5 330.0 466.0 C329.4 474.5 329.3 485.7 329.5 496.0 C329.7 506.3 330.2 518.0 331.0 528.0 C331.8 538.0 332.8 548.7 334.0 556.0 C335.2 563.3 336.0 567.0 338.0 572.0 C340.0 577.0 342.7 581.7 346.0 586.0 C349.3 590.3 352.8 594.5 358.0 598.0 C363.2 601.5 370.0 604.3 377.0 607.0 C384.0 609.7 392.1 612.3 400.0 614.0 C407.9 615.7 415.7 616.7 424.5 617.0 C433.3 617.3 443.5 616.7 453.0 616.0 C462.5 615.3 472.0 614.0 481.5 613.0 C491.0 612.0 499.0 611.2 510.0 610.0 C521.0 608.8 536.5 605.8 547.5 606.0 C558.5 606.2 568.1 608.2 576.0 611.0 C583.9 613.8 590.0 619.5 595.0 623.0 C600.0 626.5 602.8 629.5 606.0 632.0 C609.2 634.5 611.1 637.3 614.0 638.0 C616.9 638.7 621.6 638.2 623.5 636.0 C625.4 633.8 626.4 628.7 625.4 624.6 C624.4 620.5 621.3 615.4 617.8 611.3 C614.3 607.2 609.9 603.5 604.5 600.0 C599.1 596.5 591.8 592.6 585.5 590.4 C579.2 588.2 574.4 587.2 566.5 586.6 C558.6 586.0 549.1 586.3 538.0 586.6 C526.9 586.9 511.0 587.8 500.0 588.5 C489.0 589.2 484.6 590.4 472.0 591.0 C459.4 591.6 437.8 592.8 424.5 592.0 C411.2 591.2 401.2 589.6 392.0 586.5 C382.8 583.4 374.9 577.6 369.4 573.2 C363.9 568.8 361.6 564.7 359.0 560.0 C356.4 555.3 355.2 549.7 354.0 545.0 C352.8 540.3 352.3 534.2 352.0 532.0" stroke="#e2e2e2" stroke-width="8.4" /><path d="M626.0 181.0 C626.2 182.8 627.2 187.5 627.0 192.0 C626.8 196.5 626.0 202.3 625.0 208.0 C624.0 213.7 622.3 220.7 621.0 226.0 C619.7 231.3 618.8 235.8 617.0 240.0 C615.2 244.2 613.2 248.2 610.0 251.0 C606.8 253.8 602.0 255.2 598.0 257.0 C594.0 258.8 589.7 260.5 586.0 262.0 C582.3 263.5 577.7 265.3 576.0 266.0" stroke="#e2e2e2" stroke-width="7.4" /><path d="M572.0 205.0 C572.0 209.2 571.8 222.5 572.0 230.0 C572.2 237.5 572.7 244.0 573.0 250.0 C573.3 256.0 573.8 263.3 574.0 266.0" stroke="#e2e2e2" stroke-width="8.4" /><path d="M575.0 266.0 C574.5 268.3 573.5 275.5 572.0 280.0 C570.5 284.5 568.2 288.5 566.0 293.0 C563.8 297.5 560.5 303.2 559.0 307.0 C557.5 310.8 557.3 314.5 557.0 316.0" stroke="#e2e2e2" stroke-width="7.4" /><path d="M531.0 270.0 C532.0 272.0 534.7 277.5 537.0 282.0 C539.3 286.5 542.5 292.5 545.0 297.0 C547.5 301.5 550.0 305.8 552.0 309.0 C554.0 312.2 556.2 314.8 557.0 316.0" stroke="#e2e2e2" stroke-width="7.4" /><path d="M557.0 316.0 C557.0 318.3 557.7 325.3 557.0 330.0 C556.3 334.7 554.5 339.7 553.0 344.0 C551.5 348.3 549.8 352.3 548.0 356.0 C546.2 359.7 544.0 363.0 542.0 366.0 C540.0 369.0 538.3 370.7 536.0 374.0 C533.7 377.3 531.0 382.0 528.0 386.0 C525.0 390.0 521.5 393.5 518.0 398.0 C514.5 402.5 510.7 408.0 507.0 413.0 C503.3 418.0 497.8 425.5 496.0 428.0" stroke="#e2e2e2" stroke-width="7.4" /><path d="M622.0 213.0 C625.2 211.7 635.0 207.2 641.0 205.0 C647.0 202.8 654.3 200.7 658.0 200.0 C661.7 199.3 662.5 199.2 663.0 201.0 C663.5 202.8 662.3 207.5 661.0 211.0 C659.7 214.5 657.8 217.8 655.0 222.0 C652.2 226.2 647.8 232.2 644.0 236.0 C640.2 239.8 636.2 242.5 632.0 245.0 C627.8 247.5 623.3 249.0 619.0 251.0 C614.7 253.0 608.2 256.0 606.0 257.0" stroke="#e2e2e2" stroke-width="7.4" /><path d="M658.0 222.0 C659.3 224.3 663.8 231.7 666.0 236.0 C668.2 240.3 669.8 243.2 671.0 248.0 C672.2 252.8 672.8 259.8 673.0 265.0 C673.2 270.2 671.7 274.8 672.0 279.0 C672.3 283.2 674.5 286.7 675.0 290.0 C675.5 293.3 675.8 295.8 675.0 299.0 C674.2 302.2 672.3 305.7 670.0 309.0 C667.7 312.3 664.5 315.5 661.0 319.0 C657.5 322.5 653.8 327.2 649.0 330.0 C644.2 332.8 636.8 334.7 632.0 336.0 C627.2 337.3 624.0 337.8 620.0 338.0 C616.0 338.2 612.0 337.0 608.0 337.0 C604.0 337.0 600.0 337.2 596.0 338.0 C592.0 338.8 588.0 340.3 584.0 341.6 C580.0 342.9 576.0 344.6 572.0 346.0 C568.0 347.4 564.0 348.2 560.0 350.0 C556.0 351.8 552.0 356.2 548.0 357.0 C544.0 357.8 541.0 355.6 536.0 355.0 C531.0 354.4 524.0 353.6 518.0 353.6 C512.0 353.6 505.3 354.4 500.0 355.0 C494.7 355.6 489.7 356.2 486.0 357.0 C482.3 357.8 479.3 359.5 478.0 360.0" stroke="#e2e2e2" stroke-width="8.4" /><path d="M622.0 338.0 C621.6 339.8 620.8 344.5 619.5 349.0 C618.2 353.5 615.3 358.8 614.0 365.0 C612.7 371.2 612.6 379.0 611.8 386.0 C611.0 393.0 610.1 400.7 609.0 407.0 C607.9 413.3 606.7 417.8 605.0 424.0 C603.3 430.2 600.8 438.0 599.0 444.0 C597.2 450.0 595.8 454.7 594.0 460.0 C592.2 465.3 589.8 471.5 588.0 476.0 C586.2 480.5 584.3 483.0 583.0 487.0 C581.7 491.0 580.6 495.7 580.0 500.0 C579.4 504.3 579.7 508.7 579.6 513.0 C579.5 517.3 579.0 522.2 579.6 526.0 C580.2 529.8 580.8 533.2 583.0 536.0 C585.2 538.8 589.3 540.9 593.0 542.7 C596.7 544.5 602.4 545.4 605.0 547.0 C607.6 548.6 608.5 550.2 608.8 552.6 C609.1 555.0 608.6 559.0 607.0 561.4 C605.4 563.8 601.9 566.1 599.4 567.0 C596.9 567.9 594.3 567.5 591.7 567.0 C589.1 566.5 586.3 564.7 584.0 564.0 C581.7 563.3 579.0 563.2 578.0 563.0" stroke="#e2e2e2" stroke-width="9.4" /><path d="M556.0 491.0 C558.0 490.6 563.8 489.2 568.0 488.5 C572.2 487.8 578.8 487.2 581.0 487.0" stroke="#e2e2e2" stroke-width="7.4" /><path d="M553.0 374.0 C552.2 373.2 549.8 370.3 548.0 369.0 C546.2 367.7 543.0 366.5 542.0 366.0" stroke="#e2e2e2" stroke-width="6.4" /><path d="M574.0 438.0 C572.7 440.0 568.3 445.5 566.0 450.0 C563.7 454.5 561.7 460.0 560.0 465.0 C558.3 470.0 557.2 475.5 556.0 480.0 C554.8 484.5 554.7 488.8 553.0 492.0 C551.3 495.2 548.7 496.3 546.0 499.0 C543.3 501.7 539.7 504.8 537.0 508.0 C534.3 511.2 531.7 514.3 530.0 518.0 C528.3 521.7 527.3 525.5 527.0 530.0 C526.7 534.5 527.8 542.5 528.0 545.0" stroke="#e2e2e2" stroke-width="11.4" /><path d="M574.0 440.0 C572.8 442.0 569.0 447.7 567.0 452.0 C565.0 456.3 563.5 461.3 562.0 466.0 C560.5 470.7 558.7 477.7 558.0 480.0" stroke="#e2e2e2" stroke-width="15.4" /><path d="M553.0 490.0 C553.2 492.0 554.2 496.3 554.5 502.0 C554.8 507.7 554.4 516.7 554.5 524.0 C554.6 531.3 554.3 540.7 555.4 546.0 C556.5 551.3 558.4 553.2 561.0 556.0 C563.6 558.8 567.9 560.5 571.0 562.5 C574.1 564.5 577.6 566.2 579.6 568.0 C581.6 569.8 583.0 571.8 583.0 573.5 C583.0 575.2 582.2 577.0 579.6 578.0 C577.0 579.0 571.9 579.6 567.5 579.6 C563.1 579.6 556.9 578.8 553.0 578.0 C549.1 577.2 546.6 576.3 544.4 574.6 C542.2 572.9 541.4 570.8 540.0 568.0 C538.6 565.2 537.5 561.7 536.0 558.0 C534.5 554.3 531.8 548.0 531.0 546.0" stroke="#e2e2e2" stroke-width="9.4" /><path d="M522.6 449.0 C522.6 458.3 522.6 495.7 522.6 505.0" stroke="#e2e2e2" stroke-width="8.4" /><path d="M363.0 545.0 C365.3 546.0 370.0 549.2 377.0 551.0 C384.0 552.8 396.2 555.2 405.0 556.0 C413.8 556.8 423.3 556.5 430.0 556.0 C436.7 555.5 439.7 553.0 445.0 553.0 C450.3 553.0 455.8 554.7 462.0 556.0 C468.2 557.3 475.2 560.0 482.0 561.0 C488.8 562.0 497.0 562.5 503.0 562.0 C509.0 561.5 514.0 559.7 518.0 558.0 C522.0 556.3 524.8 554.2 527.0 552.0 C529.2 549.8 530.3 546.2 531.0 545.0" stroke="#e2e2e2" stroke-width="7.4" /><path d="M383.0 493.0 C383.5 495.8 385.0 504.2 386.0 510.0 C387.0 515.8 387.7 522.7 389.0 528.0 C390.3 533.3 391.7 537.5 394.0 542.0 C396.3 546.5 401.5 552.8 403.0 555.0" stroke="#e2e2e2" stroke-width="12.4" /><path d="M359.0 406.0 C358.7 408.3 357.5 415.3 357.0 420.0 C356.5 424.7 355.8 429.0 356.0 434.0 C356.2 439.0 356.7 444.8 358.0 450.0 C359.3 455.2 361.5 460.3 364.0 465.0 C366.5 469.7 370.3 474.2 373.0 478.0 C375.7 481.8 378.8 486.3 380.0 488.0" stroke="#e2e2e2" stroke-width="7.4" /><path d="M412.0 384.0 C410.8 387.5 407.2 398.3 405.0 405.0 C402.8 411.7 400.6 417.8 399.0 424.0 C397.4 430.2 396.8 436.0 395.6 442.0 C394.4 448.0 393.3 454.3 392.0 460.0 C390.7 465.7 389.3 471.0 388.0 476.0 C386.7 481.0 384.7 487.7 384.0 490.0" stroke="#e2e2e2" stroke-width="7.4" /><path d="M481.0 318.0 C480.0 320.7 477.0 328.3 475.0 334.0 C473.0 339.7 471.2 346.0 469.0 352.0 C466.8 358.0 464.7 364.0 462.0 370.0 C459.3 376.0 456.3 382.0 453.0 388.0 C449.7 394.0 446.2 400.3 442.0 406.0 C437.8 411.7 432.7 417.5 428.0 422.0 C423.3 426.5 417.8 429.7 414.0 433.0 C410.2 436.3 407.5 437.8 405.0 442.0 C402.5 446.2 400.0 455.3 399.0 458.0" stroke="#e2e2e2" stroke-width="7.4" /><path d="M481.0 316.0 C480.8 320.0 480.0 331.3 480.0 340.0 C480.0 348.7 480.3 358.7 481.0 368.0 C481.7 377.3 482.7 387.3 484.0 396.0 C485.3 404.7 487.7 413.5 489.0 420.0 C490.3 426.5 491.7 429.2 492.0 435.0 C492.3 440.8 491.5 448.3 491.0 455.0 C490.5 461.7 489.8 468.8 489.0 475.0 C488.2 481.2 487.5 486.5 486.0 492.0 C484.5 497.5 481.0 505.3 480.0 508.0" stroke="#e2e2e2" stroke-width="9.4" /><path d="M496.0 428.0 C496.2 430.8 497.0 438.8 497.0 445.0 C497.0 451.2 496.7 458.3 496.0 465.0 C495.3 471.7 494.2 479.2 493.0 485.0 C491.8 490.8 489.7 497.5 489.0 500.0" stroke="#e2e2e2" stroke-width="7.4" /><path d="M372.0 524.0 C373.3 524.5 377.2 526.3 380.0 527.0 C382.8 527.7 387.5 527.8 389.0 528.0" stroke="#e2e2e2" stroke-width="6.4" /><path d="M596.0 259.0 C597.7 260.2 602.5 263.2 606.0 266.0 C609.5 268.8 615.2 274.3 617.0 276.0" stroke="#e2e2e2" stroke-width="8.4" /><path d="M626.0 181.0 C623.2 182.5 615.0 187.3 609.0 190.0 C603.0 192.7 596.2 194.3 590.0 197.0 C583.8 199.7 577.5 202.3 572.0 206.0 C566.5 209.7 561.3 213.8 557.0 219.0 C552.7 224.2 549.3 230.8 546.0 237.0 C542.7 243.2 540.0 249.2 537.0 256.0 C534.0 262.8 531.8 271.3 528.0 278.0 C524.2 284.7 518.7 290.8 514.0 296.0 C509.3 301.2 505.3 306.0 500.0 309.0 C494.7 312.0 487.4 312.2 482.0 314.0 C476.6 315.8 473.0 316.9 467.6 319.6 C462.2 322.3 455.0 326.5 449.6 330.4 C444.2 334.3 439.4 338.5 435.2 343.0 C431.0 347.5 427.7 352.0 424.4 357.4 C421.1 362.8 417.8 371.1 415.4 375.4 C413.0 379.7 410.9 381.7 410.0 383.0" stroke="#f7f7f7" stroke-width="3.6" /><path d="M410.0 383.0 C407.6 383.8 401.0 386.3 395.6 388.0 C390.2 389.7 383.0 391.2 377.6 393.4 C372.2 395.6 367.9 397.6 363.0 401.0 C358.1 404.4 352.5 409.5 348.5 414.0 C344.5 418.5 341.6 422.8 339.0 428.0 C336.4 433.2 334.5 438.7 333.0 445.0 C331.5 451.3 330.6 457.5 330.0 466.0 C329.4 474.5 329.3 485.7 329.5 496.0 C329.7 506.3 330.2 518.0 331.0 528.0 C331.8 538.0 332.8 548.7 334.0 556.0 C335.2 563.3 336.0 567.0 338.0 572.0 C340.0 577.0 342.7 581.7 346.0 586.0 C349.3 590.3 352.8 594.5 358.0 598.0 C363.2 601.5 370.0 604.3 377.0 607.0 C384.0 609.7 392.1 612.3 400.0 614.0 C407.9 615.7 415.7 616.7 424.5 617.0 C433.3 617.3 443.5 616.7 453.0 616.0 C462.5 615.3 472.0 614.0 481.5 613.0 C491.0 612.0 499.0 611.2 510.0 610.0 C521.0 608.8 536.5 605.8 547.5 606.0 C558.5 606.2 568.1 608.2 576.0 611.0 C583.9 613.8 590.0 619.5 595.0 623.0 C600.0 626.5 602.8 629.5 606.0 632.0 C609.2 634.5 611.1 637.3 614.0 638.0 C616.9 638.7 621.6 638.2 623.5 636.0 C625.4 633.8 626.4 628.7 625.4 624.6 C624.4 620.5 621.3 615.4 617.8 611.3 C614.3 607.2 609.9 603.5 604.5 600.0 C599.1 596.5 591.8 592.6 585.5 590.4 C579.2 588.2 574.4 587.2 566.5 586.6 C558.6 586.0 549.1 586.3 538.0 586.6 C526.9 586.9 511.0 587.8 500.0 588.5 C489.0 589.2 484.6 590.4 472.0 591.0 C459.4 591.6 437.8 592.8 424.5 592.0 C411.2 591.2 401.2 589.6 392.0 586.5 C382.8 583.4 374.9 577.6 369.4 573.2 C363.9 568.8 361.6 564.7 359.0 560.0 C356.4 555.3 355.2 549.7 354.0 545.0 C352.8 540.3 352.3 534.2 352.0 532.0" stroke="#f7f7f7" stroke-width="3.6" /><path d="M626.0 181.0 C626.2 182.8 627.2 187.5 627.0 192.0 C626.8 196.5 626.0 202.3 625.0 208.0 C624.0 213.7 622.3 220.7 621.0 226.0 C619.7 231.3 618.8 235.8 617.0 240.0 C615.2 244.2 613.2 248.2 610.0 251.0 C606.8 253.8 602.0 255.2 598.0 257.0 C594.0 258.8 589.7 260.5 586.0 262.0 C582.3 263.5 577.7 265.3 576.0 266.0" stroke="#f7f7f7" stroke-width="3.2" /><path d="M572.0 205.0 C572.0 209.2 571.8 222.5 572.0 230.0 C572.2 237.5 572.7 244.0 573.0 250.0 C573.3 256.0 573.8 263.3 574.0 266.0" stroke="#f7f7f7" stroke-width="3.6" /><path d="M575.0 266.0 C574.5 268.3 573.5 275.5 572.0 280.0 C570.5 284.5 568.2 288.5 566.0 293.0 C563.8 297.5 560.5 303.2 559.0 307.0 C557.5 310.8 557.3 314.5 557.0 316.0" stroke="#f7f7f7" stroke-width="3.2" /><path d="M531.0 270.0 C532.0 272.0 534.7 277.5 537.0 282.0 C539.3 286.5 542.5 292.5 545.0 297.0 C547.5 301.5 550.0 305.8 552.0 309.0 C554.0 312.2 556.2 314.8 557.0 316.0" stroke="#f7f7f7" stroke-width="3.2" /><path d="M557.0 316.0 C557.0 318.3 557.7 325.3 557.0 330.0 C556.3 334.7 554.5 339.7 553.0 344.0 C551.5 348.3 549.8 352.3 548.0 356.0 C546.2 359.7 544.0 363.0 542.0 366.0 C540.0 369.0 538.3 370.7 536.0 374.0 C533.7 377.3 531.0 382.0 528.0 386.0 C525.0 390.0 521.5 393.5 518.0 398.0 C514.5 402.5 510.7 408.0 507.0 413.0 C503.3 418.0 497.8 425.5 496.0 428.0" stroke="#f7f7f7" stroke-width="3.2" /><path d="M622.0 213.0 C625.2 211.7 635.0 207.2 641.0 205.0 C647.0 202.8 654.3 200.7 658.0 200.0 C661.7 199.3 662.5 199.2 663.0 201.0 C663.5 202.8 662.3 207.5 661.0 211.0 C659.7 214.5 657.8 217.8 655.0 222.0 C652.2 226.2 647.8 232.2 644.0 236.0 C640.2 239.8 636.2 242.5 632.0 245.0 C627.8 247.5 623.3 249.0 619.0 251.0 C614.7 253.0 608.2 256.0 606.0 257.0" stroke="#f7f7f7" stroke-width="3.2" /><path d="M658.0 222.0 C659.3 224.3 663.8 231.7 666.0 236.0 C668.2 240.3 669.8 243.2 671.0 248.0 C672.2 252.8 672.8 259.8 673.0 265.0 C673.2 270.2 671.7 274.8 672.0 279.0 C672.3 283.2 674.5 286.7 675.0 290.0 C675.5 293.3 675.8 295.8 675.0 299.0 C674.2 302.2 672.3 305.7 670.0 309.0 C667.7 312.3 664.5 315.5 661.0 319.0 C657.5 322.5 653.8 327.2 649.0 330.0 C644.2 332.8 636.8 334.7 632.0 336.0 C627.2 337.3 624.0 337.8 620.0 338.0 C616.0 338.2 612.0 337.0 608.0 337.0 C604.0 337.0 600.0 337.2 596.0 338.0 C592.0 338.8 588.0 340.3 584.0 341.6 C580.0 342.9 576.0 344.6 572.0 346.0 C568.0 347.4 564.0 348.2 560.0 350.0 C556.0 351.8 552.0 356.2 548.0 357.0 C544.0 357.8 541.0 355.6 536.0 355.0 C531.0 354.4 524.0 353.6 518.0 353.6 C512.0 353.6 505.3 354.4 500.0 355.0 C494.7 355.6 489.7 356.2 486.0 357.0 C482.3 357.8 479.3 359.5 478.0 360.0" stroke="#f7f7f7" stroke-width="3.6" /><path d="M622.0 338.0 C621.6 339.8 620.8 344.5 619.5 349.0 C618.2 353.5 615.3 358.8 614.0 365.0 C612.7 371.2 612.6 379.0 611.8 386.0 C611.0 393.0 610.1 400.7 609.0 407.0 C607.9 413.3 606.7 417.8 605.0 424.0 C603.3 430.2 600.8 438.0 599.0 444.0 C597.2 450.0 595.8 454.7 594.0 460.0 C592.2 465.3 589.8 471.5 588.0 476.0 C586.2 480.5 584.3 483.0 583.0 487.0 C581.7 491.0 580.6 495.7 580.0 500.0 C579.4 504.3 579.7 508.7 579.6 513.0 C579.5 517.3 579.0 522.2 579.6 526.0 C580.2 529.8 580.8 533.2 583.0 536.0 C585.2 538.8 589.3 540.9 593.0 542.7 C596.7 544.5 602.4 545.4 605.0 547.0 C607.6 548.6 608.5 550.2 608.8 552.6 C609.1 555.0 608.6 559.0 607.0 561.4 C605.4 563.8 601.9 566.1 599.4 567.0 C596.9 567.9 594.3 567.5 591.7 567.0 C589.1 566.5 586.3 564.7 584.0 564.0 C581.7 563.3 579.0 563.2 578.0 563.0" stroke="#f7f7f7" stroke-width="4.0" /><path d="M556.0 491.0 C558.0 490.6 563.8 489.2 568.0 488.5 C572.2 487.8 578.8 487.2 581.0 487.0" stroke="#f7f7f7" stroke-width="3.2" /><path d="M553.0 374.0 C552.2 373.2 549.8 370.3 548.0 369.0 C546.2 367.7 543.0 366.5 542.0 366.0" stroke="#f7f7f7" stroke-width="2.8000000000000003" /><path d="M574.0 438.0 C572.7 440.0 568.3 445.5 566.0 450.0 C563.7 454.5 561.7 460.0 560.0 465.0 C558.3 470.0 557.2 475.5 556.0 480.0 C554.8 484.5 554.7 488.8 553.0 492.0 C551.3 495.2 548.7 496.3 546.0 499.0 C543.3 501.7 539.7 504.8 537.0 508.0 C534.3 511.2 531.7 514.3 530.0 518.0 C528.3 521.7 527.3 525.5 527.0 530.0 C526.7 534.5 527.8 542.5 528.0 545.0" stroke="#f7f7f7" stroke-width="4.800000000000001" /><path d="M574.0 440.0 C572.8 442.0 569.0 447.7 567.0 452.0 C565.0 456.3 563.5 461.3 562.0 466.0 C560.5 470.7 558.7 477.7 558.0 480.0" stroke="#f7f7f7" stroke-width="6.4" /><path d="M553.0 490.0 C553.2 492.0 554.2 496.3 554.5 502.0 C554.8 507.7 554.4 516.7 554.5 524.0 C554.6 531.3 554.3 540.7 555.4 546.0 C556.5 551.3 558.4 553.2 561.0 556.0 C563.6 558.8 567.9 560.5 571.0 562.5 C574.1 564.5 577.6 566.2 579.6 568.0 C581.6 569.8 583.0 571.8 583.0 573.5 C583.0 575.2 582.2 577.0 579.6 578.0 C577.0 579.0 571.9 579.6 567.5 579.6 C563.1 579.6 556.9 578.8 553.0 578.0 C549.1 577.2 546.6 576.3 544.4 574.6 C542.2 572.9 541.4 570.8 540.0 568.0 C538.6 565.2 537.5 561.7 536.0 558.0 C534.5 554.3 531.8 548.0 531.0 546.0" stroke="#f7f7f7" stroke-width="4.0" /><path d="M522.6 449.0 C522.6 458.3 522.6 495.7 522.6 505.0" stroke="#f7f7f7" stroke-width="3.6" /><path d="M363.0 545.0 C365.3 546.0 370.0 549.2 377.0 551.0 C384.0 552.8 396.2 555.2 405.0 556.0 C413.8 556.8 423.3 556.5 430.0 556.0 C436.7 555.5 439.7 553.0 445.0 553.0 C450.3 553.0 455.8 554.7 462.0 556.0 C468.2 557.3 475.2 560.0 482.0 561.0 C488.8 562.0 497.0 562.5 503.0 562.0 C509.0 561.5 514.0 559.7 518.0 558.0 C522.0 556.3 524.8 554.2 527.0 552.0 C529.2 549.8 530.3 546.2 531.0 545.0" stroke="#f7f7f7" stroke-width="3.2" /><path d="M383.0 493.0 C383.5 495.8 385.0 504.2 386.0 510.0 C387.0 515.8 387.7 522.7 389.0 528.0 C390.3 533.3 391.7 537.5 394.0 542.0 C396.3 546.5 401.5 552.8 403.0 555.0" stroke="#f7f7f7" stroke-width="5.2" /><path d="M359.0 406.0 C358.7 408.3 357.5 415.3 357.0 420.0 C356.5 424.7 355.8 429.0 356.0 434.0 C356.2 439.0 356.7 444.8 358.0 450.0 C359.3 455.2 361.5 460.3 364.0 465.0 C366.5 469.7 370.3 474.2 373.0 478.0 C375.7 481.8 378.8 486.3 380.0 488.0" stroke="#f7f7f7" stroke-width="3.2" /><path d="M412.0 384.0 C410.8 387.5 407.2 398.3 405.0 405.0 C402.8 411.7 400.6 417.8 399.0 424.0 C397.4 430.2 396.8 436.0 395.6 442.0 C394.4 448.0 393.3 454.3 392.0 460.0 C390.7 465.7 389.3 471.0 388.0 476.0 C386.7 481.0 384.7 487.7 384.0 490.0" stroke="#f7f7f7" stroke-width="3.2" /><path d="M481.0 318.0 C480.0 320.7 477.0 328.3 475.0 334.0 C473.0 339.7 471.2 346.0 469.0 352.0 C466.8 358.0 464.7 364.0 462.0 370.0 C459.3 376.0 456.3 382.0 453.0 388.0 C449.7 394.0 446.2 400.3 442.0 406.0 C437.8 411.7 432.7 417.5 428.0 422.0 C423.3 426.5 417.8 429.7 414.0 433.0 C410.2 436.3 407.5 437.8 405.0 442.0 C402.5 446.2 400.0 455.3 399.0 458.0" stroke="#f7f7f7" stroke-width="3.2" /><path d="M481.0 316.0 C480.8 320.0 480.0 331.3 480.0 340.0 C480.0 348.7 480.3 358.7 481.0 368.0 C481.7 377.3 482.7 387.3 484.0 396.0 C485.3 404.7 487.7 413.5 489.0 420.0 C490.3 426.5 491.7 429.2 492.0 435.0 C492.3 440.8 491.5 448.3 491.0 455.0 C490.5 461.7 489.8 468.8 489.0 475.0 C488.2 481.2 487.5 486.5 486.0 492.0 C484.5 497.5 481.0 505.3 480.0 508.0" stroke="#f7f7f7" stroke-width="4.0" /><path d="M496.0 428.0 C496.2 430.8 497.0 438.8 497.0 445.0 C497.0 451.2 496.7 458.3 496.0 465.0 C495.3 471.7 494.2 479.2 493.0 485.0 C491.8 490.8 489.7 497.5 489.0 500.0" stroke="#f7f7f7" stroke-width="3.2" /><path d="M372.0 524.0 C373.3 524.5 377.2 526.3 380.0 527.0 C382.8 527.7 387.5 527.8 389.0 528.0" stroke="#f7f7f7" stroke-width="2.8000000000000003" /><path d="M596.0 259.0 C597.7 260.2 602.5 263.2 606.0 266.0 C609.5 268.8 615.2 274.3 617.0 276.0" stroke="#f7f7f7" stroke-width="3.6" /><path d="M624.1 186.0 C621.8 187.2 615.9 190.8 610.4 193.2 C605.0 195.6 597.5 197.6 591.4 200.2 C585.3 202.8 579.2 205.4 573.9 208.9 C568.7 212.4 563.8 216.3 559.7 221.2 C555.5 226.2 552.3 232.6 549.1 238.7 C545.8 244.7 543.2 250.6 540.2 257.4 C537.2 264.3 535.0 272.9 531.0 279.7 C527.1 286.6 521.5 293.0 516.6 298.3 C511.7 303.7 507.3 308.9 501.7 312.1 C496.1 315.2 488.5 315.5 483.1 317.3 C477.7 319.1 474.4 320.1 469.2 322.7 C463.9 325.4 456.9 329.5 451.6 333.2 C446.4 337.0 441.8 341.1 437.8 345.4 C433.7 349.7 430.6 353.9 427.4 359.2 C424.2 364.5 420.5 373.4 418.5 377.1 C416.4 380.9 415.7 381.0 415.2 381.8" stroke="#1a1a1a" stroke-width="2.6" /><path d="M407.5 387.9 C405.7 388.6 401.5 390.2 396.8 391.7 C392.0 393.2 384.3 394.9 379.0 397.0 C373.8 399.1 369.8 400.9 365.2 404.1 C360.6 407.4 355.2 412.3 351.4 416.6 C347.6 420.8 344.9 424.8 342.4 429.7 C340.0 434.6 338.2 439.8 336.7 445.9 C335.3 452.0 334.4 457.9 333.8 466.3 C333.3 474.6 333.2 485.7 333.3 495.9 C333.5 506.2 334.1 517.8 334.8 527.7 C335.6 537.6 336.7 548.3 337.8 555.4 C338.9 562.5 339.7 565.9 341.6 570.6 C343.4 575.3 346.0 579.6 349.1 583.7 C352.1 587.7 355.3 591.5 360.2 594.8 C365.0 598.1 371.6 600.8 378.4 603.4 C385.1 606.0 393.7 608.7 400.8 610.2 C407.9 611.8 417.6 612.3 421.0 612.7" stroke="#1a1a1a" stroke-width="1.9" /><path d="M404.4 610.6 C407.8 611.0 416.6 612.9 424.6 613.1 C432.7 613.4 443.3 612.8 452.7 612.1 C462.1 611.4 471.6 610.1 481.1 609.1 C490.6 608.1 498.5 607.3 509.6 606.1 C520.7 605.0 536.3 601.9 547.6 602.1 C558.8 602.3 569.0 604.4 577.3 607.3 C585.6 610.3 592.1 616.2 597.2 619.8 C602.4 623.4 605.5 626.5 608.4 628.9 C611.4 631.3 612.9 633.4 614.9 634.2 C616.9 635.0 619.4 634.9 620.5 633.5 C621.7 632.0 622.6 628.8 621.6 625.5 C620.6 622.2 618.0 617.5 614.8 613.8 C611.6 610.1 607.5 606.6 602.4 603.3 C597.3 600.0 590.2 596.2 584.2 594.1 C578.2 591.9 573.9 591.1 566.2 590.5 C558.5 589.9 549.1 590.2 538.1 590.5 C527.1 590.8 511.2 591.7 500.3 592.4 C489.3 593.1 484.8 594.3 472.2 594.9 C459.5 595.5 437.9 596.7 424.3 595.9 C410.7 595.1 400.3 593.5 390.7 590.2 C381.2 586.9 372.8 581.0 367.0 576.2 C361.1 571.5 358.4 566.9 355.6 561.9 C352.8 556.8 351.4 550.2 350.2 545.9 C349.1 541.7 349.0 538.1 348.8 536.5" stroke="#555" stroke-width="1.8" /><path d="M623.0 185.3 C623.1 186.4 623.8 188.2 623.6 191.9 C623.4 195.6 622.6 201.9 621.7 207.4 C620.7 213.0 619.0 220.0 617.7 225.2 C616.4 230.4 615.5 234.7 613.9 238.6 C612.2 242.5 610.6 245.9 607.7 248.5 C604.8 251.0 600.4 252.2 596.6 253.9 C592.7 255.6 587.7 257.6 584.7 258.9 C581.7 260.1 579.5 260.9 578.5 261.4" stroke="#1a1a1a" stroke-width="1.8" /><path d="M575.9 209.0 C575.9 212.5 575.7 223.1 575.9 229.9 C576.1 236.7 576.6 244.5 576.9 249.8 C577.2 255.1 577.5 259.8 577.6 261.8" stroke="#1a1a1a" stroke-width="1.8" /><path d="M570.8 269.2 C570.5 270.8 570.1 275.2 568.8 278.9 C567.5 282.6 565.1 287.1 562.9 291.5 C560.8 296.0 557.2 302.5 555.8 305.8 C554.4 309.1 554.8 310.4 554.6 311.4" stroke="#1a1a1a" stroke-width="1.8" /><path d="M529.7 275.1 C530.5 276.5 531.9 279.6 534.0 283.6 C536.0 287.5 539.5 294.1 542.0 298.7 C544.6 303.2 547.5 308.1 549.1 310.8 C550.8 313.5 551.4 314.1 551.9 314.7" stroke="#1a1a1a" stroke-width="1.8" /><path d="M553.5 320.0 C553.5 321.6 554.2 325.7 553.5 329.5 C552.9 333.3 551.1 338.7 549.7 342.9 C548.2 347.0 546.6 350.9 544.9 354.4 C543.1 358.0 540.6 361.7 539.1 364.1 C537.5 366.4 536.2 367.9 535.6 368.7" stroke="#1a1a1a" stroke-width="1.6" /><path d="M627.0 214.6 C629.5 213.6 636.9 210.1 642.2 208.2 C647.4 206.4 655.7 204.5 658.6 203.4 C661.5 202.3 659.8 200.8 659.7 201.9 C659.5 203.0 659.0 206.7 657.8 209.8 C656.5 212.8 654.8 216.1 652.1 220.1 C649.4 224.0 645.2 229.9 641.6 233.6 C637.9 237.2 634.2 239.7 630.2 242.0 C626.2 244.4 621.2 246.2 617.6 247.9 C613.9 249.6 609.7 251.5 608.2 252.2" stroke="#1a1a1a" stroke-width="1.7" /><path d="M671.2 294.0 C671.2 294.7 672.0 295.9 671.2 298.0 C670.5 300.1 669.0 303.7 666.8 306.8 C664.6 309.8 661.5 312.9 658.2 316.2 C654.9 319.6 651.6 324.0 647.0 326.6 C642.5 329.3 634.9 331.1 631.0 332.2 C627.0 333.4 624.6 333.3 623.3 333.5" stroke="#1a1a1a" stroke-width="1.8" /><path d="M599.7 426.6 C598.9 429.3 596.5 437.4 594.8 442.7 C593.2 448.1 591.7 453.3 589.9 458.6 C588.1 463.9 585.8 469.9 584.0 474.4 C582.1 478.9 580.3 481.4 578.9 485.6 C577.5 489.8 576.3 494.9 575.7 499.4 C575.1 504.0 575.3 508.4 575.3 512.9 C575.2 517.5 574.6 522.3 575.3 526.6 C576.0 530.9 577.0 535.4 579.6 538.7 C582.2 542.0 587.2 544.6 591.1 546.6 C594.9 548.6 600.5 549.6 602.7 550.7 C604.9 551.8 604.4 551.8 604.5 553.2 C604.6 554.6 604.5 557.4 603.4 559.0 C602.3 560.6 599.7 562.3 597.9 562.9 C596.1 563.5 594.6 563.2 592.5 562.7 C590.4 562.2 586.9 560.4 585.2 559.8 C583.6 559.3 583.1 559.5 582.7 559.4" stroke="#1a1a1a" stroke-width="1.9" /><path d="M567.3 438.3 C566.3 439.9 563.3 443.4 561.2 447.5 C559.1 451.7 556.6 458.1 554.9 463.3 C553.1 468.5 551.9 474.3 550.8 478.6 C549.7 483.0 549.7 486.7 548.2 489.5 C546.8 492.2 544.7 492.7 542.2 495.2 C539.6 497.7 535.7 501.1 532.9 504.5 C530.0 508.0 527.0 511.6 525.1 515.8 C523.2 519.9 522.1 525.3 521.6 529.6 C521.2 533.9 522.2 539.4 522.4 541.4" stroke="#1a1a1a" stroke-width="1.8" /><path d="M557.9 493.4 C558.0 494.8 558.7 496.7 558.9 501.8 C559.1 506.9 558.8 516.7 558.9 523.9 C559.0 531.1 558.8 540.3 559.7 545.1 C560.6 550.0 561.9 550.7 564.2 553.0 C566.5 555.3 570.3 556.8 573.4 558.8 C576.4 560.8 580.7 563.3 582.6 564.8 C584.4 566.3 584.2 567.3 584.6 567.8" stroke="#1a1a1a" stroke-width="1.8" /><path d="M361.8 410.4 C361.6 412.1 360.8 416.5 360.4 420.4 C360.0 424.3 359.3 429.1 359.4 433.9 C359.6 438.7 360.1 444.2 361.3 449.1 C362.6 454.1 364.6 458.9 367.0 463.4 C369.5 467.9 373.6 472.8 375.8 476.0 C378.1 479.3 379.7 481.6 380.5 482.7" stroke="#1a1a1a" stroke-width="1.7" /><path d="M407.5 386.7 C406.5 389.6 403.7 397.9 401.7 403.9 C399.8 410.0 397.2 416.9 395.7 423.2 C394.1 429.4 393.4 435.3 392.2 441.3 C391.0 447.4 389.9 453.6 388.6 459.2 C387.4 464.9 385.8 470.8 384.7 475.1 C383.5 479.4 382.3 483.5 381.8 485.2" stroke="#1a1a1a" stroke-width="1.7" /><path d="M482.8 322.9 C482.0 325.0 480.0 330.1 478.2 335.1 C476.4 340.2 474.4 347.1 472.2 353.2 C470.0 359.2 467.8 365.3 465.1 371.4 C462.4 377.5 459.4 383.5 456.0 389.7 C452.6 395.8 449.0 402.2 444.7 408.0 C440.5 413.8 435.1 419.9 430.4 424.4 C425.6 429.0 420.0 432.3 416.2 435.6 C412.5 438.8 410.0 440.4 407.9 443.7 C405.8 447.1 404.3 453.5 403.6 455.4" stroke="#1a1a1a" stroke-width="1.8" /><path d="M476.3 319.8 C476.1 323.2 475.4 331.9 475.4 340.0 C475.5 348.1 475.8 358.9 476.5 368.3 C477.1 377.8 478.2 387.9 479.5 396.7 C480.8 405.5 483.2 414.5 484.5 420.9 C485.9 427.3 487.1 429.6 487.5 435.3 C487.8 440.9 487.0 448.1 486.5 454.7 C486.0 461.2 485.3 468.4 484.5 474.4 C483.7 480.4 482.8 486.1 481.6 490.8 C480.4 495.5 477.9 500.7 477.1 502.7" stroke="#444" stroke-width="1.5" /></g></g><defs><linearGradient id="fade" x1="0" y1="642" x2="0" y2="745" gradientUnits="userSpaceOnUse"><stop offset="0" stop-color="#fff" stop-opacity="0.5"/><stop offset="0.5" stop-color="#fff" stop-opacity="0.18"/><stop offset="1" stop-color="#fff" stop-opacity="0"/></linearGradient><mask id="rm"><rect x="0" y="642" width="1000" height="110" fill="url(#fade)"/></mask></defs><g mask="url(#rm)"><g transform="translate(0,1284) scale(1,-1)"><g fill="none" stroke-linecap="round" stroke-linejoin="round"><path d="M626.0 181.0 C623.2 182.5 615.0 187.3 609.0 190.0 C603.0 192.7 596.2 194.3 590.0 197.0 C583.8 199.7 577.5 202.3 572.0 206.0 C566.5 209.7 561.3 213.8 557.0 219.0 C552.7 224.2 549.3 230.8 546.0 237.0 C542.7 243.2 540.0 249.2 537.0 256.0 C534.0 262.8 531.8 271.3 528.0 278.0 C524.2 284.7 518.7 290.8 514.0 296.0 C509.3 301.2 505.3 306.0 500.0 309.0 C494.7 312.0 487.4 312.2 482.0 314.0 C476.6 315.8 473.0 316.9 467.6 319.6 C462.2 322.3 455.0 326.5 449.6 330.4 C444.2 334.3 439.4 338.5 435.2 343.0 C431.0 347.5 427.7 352.0 424.4 357.4 C421.1 362.8 417.8 371.1 415.4 375.4 C413.0 379.7 410.9 381.7 410.0 383.0" stroke="#b2b2b2" stroke-width="10.6" /><path d="M410.0 383.0 C407.6 383.8 401.0 386.3 395.6 388.0 C390.2 389.7 383.0 391.2 377.6 393.4 C372.2 395.6 367.9 397.6 363.0 401.0 C358.1 404.4 352.5 409.5 348.5 414.0 C344.5 418.5 341.6 422.8 339.0 428.0 C336.4 433.2 334.5 438.7 333.0 445.0 C331.5 451.3 330.6 457.5 330.0 466.0 C329.4 474.5 329.3 485.7 329.5 496.0 C329.7 506.3 330.2 518.0 331.0 528.0 C331.8 538.0 332.8 548.7 334.0 556.0 C335.2 563.3 336.0 567.0 338.0 572.0 C340.0 577.0 342.7 581.7 346.0 586.0 C349.3 590.3 352.8 594.5 358.0 598.0 C363.2 601.5 370.0 604.3 377.0 607.0 C384.0 609.7 392.1 612.3 400.0 614.0 C407.9 615.7 415.7 616.7 424.5 617.0 C433.3 617.3 443.5 616.7 453.0 616.0 C462.5 615.3 472.0 614.0 481.5 613.0 C491.0 612.0 499.0 611.2 510.0 610.0 C521.0 608.8 536.5 605.8 547.5 606.0 C558.5 606.2 568.1 608.2 576.0 611.0 C583.9 613.8 590.0 619.5 595.0 623.0 C600.0 626.5 602.8 629.5 606.0 632.0 C609.2 634.5 611.1 637.3 614.0 638.0 C616.9 638.7 621.6 638.2 623.5 636.0 C625.4 633.8 626.4 628.7 625.4 624.6 C624.4 620.5 621.3 615.4 617.8 611.3 C614.3 607.2 609.9 603.5 604.5 600.0 C599.1 596.5 591.8 592.6 585.5 590.4 C579.2 588.2 574.4 587.2 566.5 586.6 C558.6 586.0 549.1 586.3 538.0 586.6 C526.9 586.9 511.0 587.8 500.0 588.5 C489.0 589.2 484.6 590.4 472.0 591.0 C459.4 591.6 437.8 592.8 424.5 592.0 C411.2 591.2 401.2 589.6 392.0 586.5 C382.8 583.4 374.9 577.6 369.4 573.2 C363.9 568.8 361.6 564.7 359.0 560.0 C356.4 555.3 355.2 549.7 354.0 545.0 C352.8 540.3 352.3 534.2 352.0 532.0" stroke="#b2b2b2" stroke-width="10.6" /><path d="M626.0 181.0 C626.2 182.8 627.2 187.5 627.0 192.0 C626.8 196.5 626.0 202.3 625.0 208.0 C624.0 213.7 622.3 220.7 621.0 226.0 C619.7 231.3 618.8 235.8 617.0 240.0 C615.2 244.2 613.2 248.2 610.0 251.0 C606.8 253.8 602.0 255.2 598.0 257.0 C594.0 258.8 589.7 260.5 586.0 262.0 C582.3 263.5 577.7 265.3 576.0 266.0" stroke="#b2b2b2" stroke-width="9.6" /><path d="M572.0 205.0 C572.0 209.2 571.8 222.5 572.0 230.0 C572.2 237.5 572.7 244.0 573.0 250.0 C573.3 256.0 573.8 263.3 574.0 266.0" stroke="#b2b2b2" stroke-width="10.6" /><path d="M575.0 266.0 C574.5 268.3 573.5 275.5 572.0 280.0 C570.5 284.5 568.2 288.5 566.0 293.0 C563.8 297.5 560.5 303.2 559.0 307.0 C557.5 310.8 557.3 314.5 557.0 316.0" stroke="#b2b2b2" stroke-width="9.6" /><path d="M531.0 270.0 C532.0 272.0 534.7 277.5 537.0 282.0 C539.3 286.5 542.5 292.5 545.0 297.0 C547.5 301.5 550.0 305.8 552.0 309.0 C554.0 312.2 556.2 314.8 557.0 316.0" stroke="#b2b2b2" stroke-width="9.6" /><path d="M557.0 316.0 C557.0 318.3 557.7 325.3 557.0 330.0 C556.3 334.7 554.5 339.7 553.0 344.0 C551.5 348.3 549.8 352.3 548.0 356.0 C546.2 359.7 544.0 363.0 542.0 366.0 C540.0 369.0 538.3 370.7 536.0 374.0 C533.7 377.3 531.0 382.0 528.0 386.0 C525.0 390.0 521.5 393.5 518.0 398.0 C514.5 402.5 510.7 408.0 507.0 413.0 C503.3 418.0 497.8 425.5 496.0 428.0" stroke="#b2b2b2" stroke-width="9.6" /><path d="M622.0 213.0 C625.2 211.7 635.0 207.2 641.0 205.0 C647.0 202.8 654.3 200.7 658.0 200.0 C661.7 199.3 662.5 199.2 663.0 201.0 C663.5 202.8 662.3 207.5 661.0 211.0 C659.7 214.5 657.8 217.8 655.0 222.0 C652.2 226.2 647.8 232.2 644.0 236.0 C640.2 239.8 636.2 242.5 632.0 245.0 C627.8 247.5 623.3 249.0 619.0 251.0 C614.7 253.0 608.2 256.0 606.0 257.0" stroke="#b2b2b2" stroke-width="9.6" /><path d="M658.0 222.0 C659.3 224.3 663.8 231.7 666.0 236.0 C668.2 240.3 669.8 243.2 671.0 248.0 C672.2 252.8 672.8 259.8 673.0 265.0 C673.2 270.2 671.7 274.8 672.0 279.0 C672.3 283.2 674.5 286.7 675.0 290.0 C675.5 293.3 675.8 295.8 675.0 299.0 C674.2 302.2 672.3 305.7 670.0 309.0 C667.7 312.3 664.5 315.5 661.0 319.0 C657.5 322.5 653.8 327.2 649.0 330.0 C644.2 332.8 636.8 334.7 632.0 336.0 C627.2 337.3 624.0 337.8 620.0 338.0 C616.0 338.2 612.0 337.0 608.0 337.0 C604.0 337.0 600.0 337.2 596.0 338.0 C592.0 338.8 588.0 340.3 584.0 341.6 C580.0 342.9 576.0 344.6 572.0 346.0 C568.0 347.4 564.0 348.2 560.0 350.0 C556.0 351.8 552.0 356.2 548.0 357.0 C544.0 357.8 541.0 355.6 536.0 355.0 C531.0 354.4 524.0 353.6 518.0 353.6 C512.0 353.6 505.3 354.4 500.0 355.0 C494.7 355.6 489.7 356.2 486.0 357.0 C482.3 357.8 479.3 359.5 478.0 360.0" stroke="#b2b2b2" stroke-width="10.6" /><path d="M622.0 338.0 C621.6 339.8 620.8 344.5 619.5 349.0 C618.2 353.5 615.3 358.8 614.0 365.0 C612.7 371.2 612.6 379.0 611.8 386.0 C611.0 393.0 610.1 400.7 609.0 407.0 C607.9 413.3 606.7 417.8 605.0 424.0 C603.3 430.2 600.8 438.0 599.0 444.0 C597.2 450.0 595.8 454.7 594.0 460.0 C592.2 465.3 589.8 471.5 588.0 476.0 C586.2 480.5 584.3 483.0 583.0 487.0 C581.7 491.0 580.6 495.7 580.0 500.0 C579.4 504.3 579.7 508.7 579.6 513.0 C579.5 517.3 579.0 522.2 579.6 526.0 C580.2 529.8 580.8 533.2 583.0 536.0 C585.2 538.8 589.3 540.9 593.0 542.7 C596.7 544.5 602.4 545.4 605.0 547.0 C607.6 548.6 608.5 550.2 608.8 552.6 C609.1 555.0 608.6 559.0 607.0 561.4 C605.4 563.8 601.9 566.1 599.4 567.0 C596.9 567.9 594.3 567.5 591.7 567.0 C589.1 566.5 586.3 564.7 584.0 564.0 C581.7 563.3 579.0 563.2 578.0 563.0" stroke="#b2b2b2" stroke-width="11.6" /><path d="M556.0 491.0 C558.0 490.6 563.8 489.2 568.0 488.5 C572.2 487.8 578.8 487.2 581.0 487.0" stroke="#b2b2b2" stroke-width="9.6" /><path d="M553.0 374.0 C552.2 373.2 549.8 370.3 548.0 369.0 C546.2 367.7 543.0 366.5 542.0 366.0" stroke="#b2b2b2" stroke-width="8.6" /><path d="M574.0 438.0 C572.7 440.0 568.3 445.5 566.0 450.0 C563.7 454.5 561.7 460.0 560.0 465.0 C558.3 470.0 557.2 475.5 556.0 480.0 C554.8 484.5 554.7 488.8 553.0 492.0 C551.3 495.2 548.7 496.3 546.0 499.0 C543.3 501.7 539.7 504.8 537.0 508.0 C534.3 511.2 531.7 514.3 530.0 518.0 C528.3 521.7 527.3 525.5 527.0 530.0 C526.7 534.5 527.8 542.5 528.0 545.0" stroke="#b2b2b2" stroke-width="13.6" /><path d="M574.0 440.0 C572.8 442.0 569.0 447.7 567.0 452.0 C565.0 456.3 563.5 461.3 562.0 466.0 C560.5 470.7 558.7 477.7 558.0 480.0" stroke="#b2b2b2" stroke-width="17.6" /><path d="M553.0 490.0 C553.2 492.0 554.2 496.3 554.5 502.0 C554.8 507.7 554.4 516.7 554.5 524.0 C554.6 531.3 554.3 540.7 555.4 546.0 C556.5 551.3 558.4 553.2 561.0 556.0 C563.6 558.8 567.9 560.5 571.0 562.5 C574.1 564.5 577.6 566.2 579.6 568.0 C581.6 569.8 583.0 571.8 583.0 573.5 C583.0 575.2 582.2 577.0 579.6 578.0 C577.0 579.0 571.9 579.6 567.5 579.6 C563.1 579.6 556.9 578.8 553.0 578.0 C549.1 577.2 546.6 576.3 544.4 574.6 C542.2 572.9 541.4 570.8 540.0 568.0 C538.6 565.2 537.5 561.7 536.0 558.0 C534.5 554.3 531.8 548.0 531.0 546.0" stroke="#b2b2b2" stroke-width="11.6" /><path d="M522.6 449.0 C522.6 458.3 522.6 495.7 522.6 505.0" stroke="#b2b2b2" stroke-width="10.6" /><path d="M363.0 545.0 C365.3 546.0 370.0 549.2 377.0 551.0 C384.0 552.8 396.2 555.2 405.0 556.0 C413.8 556.8 423.3 556.5 430.0 556.0 C436.7 555.5 439.7 553.0 445.0 553.0 C450.3 553.0 455.8 554.7 462.0 556.0 C468.2 557.3 475.2 560.0 482.0 561.0 C488.8 562.0 497.0 562.5 503.0 562.0 C509.0 561.5 514.0 559.7 518.0 558.0 C522.0 556.3 524.8 554.2 527.0 552.0 C529.2 549.8 530.3 546.2 531.0 545.0" stroke="#b2b2b2" stroke-width="9.6" /><path d="M383.0 493.0 C383.5 495.8 385.0 504.2 386.0 510.0 C387.0 515.8 387.7 522.7 389.0 528.0 C390.3 533.3 391.7 537.5 394.0 542.0 C396.3 546.5 401.5 552.8 403.0 555.0" stroke="#b2b2b2" stroke-width="14.6" /><path d="M359.0 406.0 C358.7 408.3 357.5 415.3 357.0 420.0 C356.5 424.7 355.8 429.0 356.0 434.0 C356.2 439.0 356.7 444.8 358.0 450.0 C359.3 455.2 361.5 460.3 364.0 465.0 C366.5 469.7 370.3 474.2 373.0 478.0 C375.7 481.8 378.8 486.3 380.0 488.0" stroke="#b2b2b2" stroke-width="9.6" /><path d="M412.0 384.0 C410.8 387.5 407.2 398.3 405.0 405.0 C402.8 411.7 400.6 417.8 399.0 424.0 C397.4 430.2 396.8 436.0 395.6 442.0 C394.4 448.0 393.3 454.3 392.0 460.0 C390.7 465.7 389.3 471.0 388.0 476.0 C386.7 481.0 384.7 487.7 384.0 490.0" stroke="#b2b2b2" stroke-width="9.6" /><path d="M481.0 318.0 C480.0 320.7 477.0 328.3 475.0 334.0 C473.0 339.7 471.2 346.0 469.0 352.0 C466.8 358.0 464.7 364.0 462.0 370.0 C459.3 376.0 456.3 382.0 453.0 388.0 C449.7 394.0 446.2 400.3 442.0 406.0 C437.8 411.7 432.7 417.5 428.0 422.0 C423.3 426.5 417.8 429.7 414.0 433.0 C410.2 436.3 407.5 437.8 405.0 442.0 C402.5 446.2 400.0 455.3 399.0 458.0" stroke="#b2b2b2" stroke-width="9.6" /><path d="M481.0 316.0 C480.8 320.0 480.0 331.3 480.0 340.0 C480.0 348.7 480.3 358.7 481.0 368.0 C481.7 377.3 482.7 387.3 484.0 396.0 C485.3 404.7 487.7 413.5 489.0 420.0 C490.3 426.5 491.7 429.2 492.0 435.0 C492.3 440.8 491.5 448.3 491.0 455.0 C490.5 461.7 489.8 468.8 489.0 475.0 C488.2 481.2 487.5 486.5 486.0 492.0 C484.5 497.5 481.0 505.3 480.0 508.0" stroke="#b2b2b2" stroke-width="11.6" /><path d="M496.0 428.0 C496.2 430.8 497.0 438.8 497.0 445.0 C497.0 451.2 496.7 458.3 496.0 465.0 C495.3 471.7 494.2 479.2 493.0 485.0 C491.8 490.8 489.7 497.5 489.0 500.0" stroke="#b2b2b2" stroke-width="9.6" /><path d="M372.0 524.0 C373.3 524.5 377.2 526.3 380.0 527.0 C382.8 527.7 387.5 527.8 389.0 528.0" stroke="#b2b2b2" stroke-width="8.6" /><path d="M596.0 259.0 C597.7 260.2 602.5 263.2 606.0 266.0 C609.5 268.8 615.2 274.3 617.0 276.0" stroke="#b2b2b2" stroke-width="10.6" /><path d="M626.0 181.0 C623.2 182.5 615.0 187.3 609.0 190.0 C603.0 192.7 596.2 194.3 590.0 197.0 C583.8 199.7 577.5 202.3 572.0 206.0 C566.5 209.7 561.3 213.8 557.0 219.0 C552.7 224.2 549.3 230.8 546.0 237.0 C542.7 243.2 540.0 249.2 537.0 256.0 C534.0 262.8 531.8 271.3 528.0 278.0 C524.2 284.7 518.7 290.8 514.0 296.0 C509.3 301.2 505.3 306.0 500.0 309.0 C494.7 312.0 487.4 312.2 482.0 314.0 C476.6 315.8 473.0 316.9 467.6 319.6 C462.2 322.3 455.0 326.5 449.6 330.4 C444.2 334.3 439.4 338.5 435.2 343.0 C431.0 347.5 427.7 352.0 424.4 357.4 C421.1 362.8 417.8 371.1 415.4 375.4 C413.0 379.7 410.9 381.7 410.0 383.0" stroke="#e2e2e2" stroke-width="8.4" /><path d="M410.0 383.0 C407.6 383.8 401.0 386.3 395.6 388.0 C390.2 389.7 383.0 391.2 377.6 393.4 C372.2 395.6 367.9 397.6 363.0 401.0 C358.1 404.4 352.5 409.5 348.5 414.0 C344.5 418.5 341.6 422.8 339.0 428.0 C336.4 433.2 334.5 438.7 333.0 445.0 C331.5 451.3 330.6 457.5 330.0 466.0 C329.4 474.5 329.3 485.7 329.5 496.0 C329.7 506.3 330.2 518.0 331.0 528.0 C331.8 538.0 332.8 548.7 334.0 556.0 C335.2 563.3 336.0 567.0 338.0 572.0 C340.0 577.0 342.7 581.7 346.0 586.0 C349.3 590.3 352.8 594.5 358.0 598.0 C363.2 601.5 370.0 604.3 377.0 607.0 C384.0 609.7 392.1 612.3 400.0 614.0 C407.9 615.7 415.7 616.7 424.5 617.0 C433.3 617.3 443.5 616.7 453.0 616.0 C462.5 615.3 472.0 614.0 481.5 613.0 C491.0 612.0 499.0 611.2 510.0 610.0 C521.0 608.8 536.5 605.8 547.5 606.0 C558.5 606.2 568.1 608.2 576.0 611.0 C583.9 613.8 590.0 619.5 595.0 623.0 C600.0 626.5 602.8 629.5 606.0 632.0 C609.2 634.5 611.1 637.3 614.0 638.0 C616.9 638.7 621.6 638.2 623.5 636.0 C625.4 633.8 626.4 628.7 625.4 624.6 C624.4 620.5 621.3 615.4 617.8 611.3 C614.3 607.2 609.9 603.5 604.5 600.0 C599.1 596.5 591.8 592.6 585.5 590.4 C579.2 588.2 574.4 587.2 566.5 586.6 C558.6 586.0 549.1 586.3 538.0 586.6 C526.9 586.9 511.0 587.8 500.0 588.5 C489.0 589.2 484.6 590.4 472.0 591.0 C459.4 591.6 437.8 592.8 424.5 592.0 C411.2 591.2 401.2 589.6 392.0 586.5 C382.8 583.4 374.9 577.6 369.4 573.2 C363.9 568.8 361.6 564.7 359.0 560.0 C356.4 555.3 355.2 549.7 354.0 545.0 C352.8 540.3 352.3 534.2 352.0 532.0" stroke="#e2e2e2" stroke-width="8.4" /><path d="M626.0 181.0 C626.2 182.8 627.2 187.5 627.0 192.0 C626.8 196.5 626.0 202.3 625.0 208.0 C624.0 213.7 622.3 220.7 621.0 226.0 C619.7 231.3 618.8 235.8 617.0 240.0 C615.2 244.2 613.2 248.2 610.0 251.0 C606.8 253.8 602.0 255.2 598.0 257.0 C594.0 258.8 589.7 260.5 586.0 262.0 C582.3 263.5 577.7 265.3 576.0 266.0" stroke="#e2e2e2" stroke-width="7.4" /><path d="M572.0 205.0 C572.0 209.2 571.8 222.5 572.0 230.0 C572.2 237.5 572.7 244.0 573.0 250.0 C573.3 256.0 573.8 263.3 574.0 266.0" stroke="#e2e2e2" stroke-width="8.4" /><path d="M575.0 266.0 C574.5 268.3 573.5 275.5 572.0 280.0 C570.5 284.5 568.2 288.5 566.0 293.0 C563.8 297.5 560.5 303.2 559.0 307.0 C557.5 310.8 557.3 314.5 557.0 316.0" stroke="#e2e2e2" stroke-width="7.4" /><path d="M531.0 270.0 C532.0 272.0 534.7 277.5 537.0 282.0 C539.3 286.5 542.5 292.5 545.0 297.0 C547.5 301.5 550.0 305.8 552.0 309.0 C554.0 312.2 556.2 314.8 557.0 316.0" stroke="#e2e2e2" stroke-width="7.4" /><path d="M557.0 316.0 C557.0 318.3 557.7 325.3 557.0 330.0 C556.3 334.7 554.5 339.7 553.0 344.0 C551.5 348.3 549.8 352.3 548.0 356.0 C546.2 359.7 544.0 363.0 542.0 366.0 C540.0 369.0 538.3 370.7 536.0 374.0 C533.7 377.3 531.0 382.0 528.0 386.0 C525.0 390.0 521.5 393.5 518.0 398.0 C514.5 402.5 510.7 408.0 507.0 413.0 C503.3 418.0 497.8 425.5 496.0 428.0" stroke="#e2e2e2" stroke-width="7.4" /><path d="M622.0 213.0 C625.2 211.7 635.0 207.2 641.0 205.0 C647.0 202.8 654.3 200.7 658.0 200.0 C661.7 199.3 662.5 199.2 663.0 201.0 C663.5 202.8 662.3 207.5 661.0 211.0 C659.7 214.5 657.8 217.8 655.0 222.0 C652.2 226.2 647.8 232.2 644.0 236.0 C640.2 239.8 636.2 242.5 632.0 245.0 C627.8 247.5 623.3 249.0 619.0 251.0 C614.7 253.0 608.2 256.0 606.0 257.0" stroke="#e2e2e2" stroke-width="7.4" /><path d="M658.0 222.0 C659.3 224.3 663.8 231.7 666.0 236.0 C668.2 240.3 669.8 243.2 671.0 248.0 C672.2 252.8 672.8 259.8 673.0 265.0 C673.2 270.2 671.7 274.8 672.0 279.0 C672.3 283.2 674.5 286.7 675.0 290.0 C675.5 293.3 675.8 295.8 675.0 299.0 C674.2 302.2 672.3 305.7 670.0 309.0 C667.7 312.3 664.5 315.5 661.0 319.0 C657.5 322.5 653.8 327.2 649.0 330.0 C644.2 332.8 636.8 334.7 632.0 336.0 C627.2 337.3 624.0 337.8 620.0 338.0 C616.0 338.2 612.0 337.0 608.0 337.0 C604.0 337.0 600.0 337.2 596.0 338.0 C592.0 338.8 588.0 340.3 584.0 341.6 C580.0 342.9 576.0 344.6 572.0 346.0 C568.0 347.4 564.0 348.2 560.0 350.0 C556.0 351.8 552.0 356.2 548.0 357.0 C544.0 357.8 541.0 355.6 536.0 355.0 C531.0 354.4 524.0 353.6 518.0 353.6 C512.0 353.6 505.3 354.4 500.0 355.0 C494.7 355.6 489.7 356.2 486.0 357.0 C482.3 357.8 479.3 359.5 478.0 360.0" stroke="#e2e2e2" stroke-width="8.4" /><path d="M622.0 338.0 C621.6 339.8 620.8 344.5 619.5 349.0 C618.2 353.5 615.3 358.8 614.0 365.0 C612.7 371.2 612.6 379.0 611.8 386.0 C611.0 393.0 610.1 400.7 609.0 407.0 C607.9 413.3 606.7 417.8 605.0 424.0 C603.3 430.2 600.8 438.0 599.0 444.0 C597.2 450.0 595.8 454.7 594.0 460.0 C592.2 465.3 589.8 471.5 588.0 476.0 C586.2 480.5 584.3 483.0 583.0 487.0 C581.7 491.0 580.6 495.7 580.0 500.0 C579.4 504.3 579.7 508.7 579.6 513.0 C579.5 517.3 579.0 522.2 579.6 526.0 C580.2 529.8 580.8 533.2 583.0 536.0 C585.2 538.8 589.3 540.9 593.0 542.7 C596.7 544.5 602.4 545.4 605.0 547.0 C607.6 548.6 608.5 550.2 608.8 552.6 C609.1 555.0 608.6 559.0 607.0 561.4 C605.4 563.8 601.9 566.1 599.4 567.0 C596.9 567.9 594.3 567.5 591.7 567.0 C589.1 566.5 586.3 564.7 584.0 564.0 C581.7 563.3 579.0 563.2 578.0 563.0" stroke="#e2e2e2" stroke-width="9.4" /><path d="M556.0 491.0 C558.0 490.6 563.8 489.2 568.0 488.5 C572.2 487.8 578.8 487.2 581.0 487.0" stroke="#e2e2e2" stroke-width="7.4" /><path d="M553.0 374.0 C552.2 373.2 549.8 370.3 548.0 369.0 C546.2 367.7 543.0 366.5 542.0 366.0" stroke="#e2e2e2" stroke-width="6.4" /><path d="M574.0 438.0 C572.7 440.0 568.3 445.5 566.0 450.0 C563.7 454.5 561.7 460.0 560.0 465.0 C558.3 470.0 557.2 475.5 556.0 480.0 C554.8 484.5 554.7 488.8 553.0 492.0 C551.3 495.2 548.7 496.3 546.0 499.0 C543.3 501.7 539.7 504.8 537.0 508.0 C534.3 511.2 531.7 514.3 530.0 518.0 C528.3 521.7 527.3 525.5 527.0 530.0 C526.7 534.5 527.8 542.5 528.0 545.0" stroke="#e2e2e2" stroke-width="11.4" /><path d="M574.0 440.0 C572.8 442.0 569.0 447.7 567.0 452.0 C565.0 456.3 563.5 461.3 562.0 466.0 C560.5 470.7 558.7 477.7 558.0 480.0" stroke="#e2e2e2" stroke-width="15.4" /><path d="M553.0 490.0 C553.2 492.0 554.2 496.3 554.5 502.0 C554.8 507.7 554.4 516.7 554.5 524.0 C554.6 531.3 554.3 540.7 555.4 546.0 C556.5 551.3 558.4 553.2 561.0 556.0 C563.6 558.8 567.9 560.5 571.0 562.5 C574.1 564.5 577.6 566.2 579.6 568.0 C581.6 569.8 583.0 571.8 583.0 573.5 C583.0 575.2 582.2 577.0 579.6 578.0 C577.0 579.0 571.9 579.6 567.5 579.6 C563.1 579.6 556.9 578.8 553.0 578.0 C549.1 577.2 546.6 576.3 544.4 574.6 C542.2 572.9 541.4 570.8 540.0 568.0 C538.6 565.2 537.5 561.7 536.0 558.0 C534.5 554.3 531.8 548.0 531.0 546.0" stroke="#e2e2e2" stroke-width="9.4" /><path d="M522.6 449.0 C522.6 458.3 522.6 495.7 522.6 505.0" stroke="#e2e2e2" stroke-width="8.4" /><path d="M363.0 545.0 C365.3 546.0 370.0 549.2 377.0 551.0 C384.0 552.8 396.2 555.2 405.0 556.0 C413.8 556.8 423.3 556.5 430.0 556.0 C436.7 555.5 439.7 553.0 445.0 553.0 C450.3 553.0 455.8 554.7 462.0 556.0 C468.2 557.3 475.2 560.0 482.0 561.0 C488.8 562.0 497.0 562.5 503.0 562.0 C509.0 561.5 514.0 559.7 518.0 558.0 C522.0 556.3 524.8 554.2 527.0 552.0 C529.2 549.8 530.3 546.2 531.0 545.0" stroke="#e2e2e2" stroke-width="7.4" /><path d="M383.0 493.0 C383.5 495.8 385.0 504.2 386.0 510.0 C387.0 515.8 387.7 522.7 389.0 528.0 C390.3 533.3 391.7 537.5 394.0 542.0 C396.3 546.5 401.5 552.8 403.0 555.0" stroke="#e2e2e2" stroke-width="12.4" /><path d="M359.0 406.0 C358.7 408.3 357.5 415.3 357.0 420.0 C356.5 424.7 355.8 429.0 356.0 434.0 C356.2 439.0 356.7 444.8 358.0 450.0 C359.3 455.2 361.5 460.3 364.0 465.0 C366.5 469.7 370.3 474.2 373.0 478.0 C375.7 481.8 378.8 486.3 380.0 488.0" stroke="#e2e2e2" stroke-width="7.4" /><path d="M412.0 384.0 C410.8 387.5 407.2 398.3 405.0 405.0 C402.8 411.7 400.6 417.8 399.0 424.0 C397.4 430.2 396.8 436.0 395.6 442.0 C394.4 448.0 393.3 454.3 392.0 460.0 C390.7 465.7 389.3 471.0 388.0 476.0 C386.7 481.0 384.7 487.7 384.0 490.0" stroke="#e2e2e2" stroke-width="7.4" /><path d="M481.0 318.0 C480.0 320.7 477.0 328.3 475.0 334.0 C473.0 339.7 471.2 346.0 469.0 352.0 C466.8 358.0 464.7 364.0 462.0 370.0 C459.3 376.0 456.3 382.0 453.0 388.0 C449.7 394.0 446.2 400.3 442.0 406.0 C437.8 411.7 432.7 417.5 428.0 422.0 C423.3 426.5 417.8 429.7 414.0 433.0 C410.2 436.3 407.5 437.8 405.0 442.0 C402.5 446.2 400.0 455.3 399.0 458.0" stroke="#e2e2e2" stroke-width="7.4" /><path d="M481.0 316.0 C480.8 320.0 480.0 331.3 480.0 340.0 C480.0 348.7 480.3 358.7 481.0 368.0 C481.7 377.3 482.7 387.3 484.0 396.0 C485.3 404.7 487.7 413.5 489.0 420.0 C490.3 426.5 491.7 429.2 492.0 435.0 C492.3 440.8 491.5 448.3 491.0 455.0 C490.5 461.7 489.8 468.8 489.0 475.0 C488.2 481.2 487.5 486.5 486.0 492.0 C484.5 497.5 481.0 505.3 480.0 508.0" stroke="#e2e2e2" stroke-width="9.4" /><path d="M496.0 428.0 C496.2 430.8 497.0 438.8 497.0 445.0 C497.0 451.2 496.7 458.3 496.0 465.0 C495.3 471.7 494.2 479.2 493.0 485.0 C491.8 490.8 489.7 497.5 489.0 500.0" stroke="#e2e2e2" stroke-width="7.4" /><path d="M372.0 524.0 C373.3 524.5 377.2 526.3 380.0 527.0 C382.8 527.7 387.5 527.8 389.0 528.0" stroke="#e2e2e2" stroke-width="6.4" /><path d="M596.0 259.0 C597.7 260.2 602.5 263.2 606.0 266.0 C609.5 268.8 615.2 274.3 617.0 276.0" stroke="#e2e2e2" stroke-width="8.4" /><path d="M626.0 181.0 C623.2 182.5 615.0 187.3 609.0 190.0 C603.0 192.7 596.2 194.3 590.0 197.0 C583.8 199.7 577.5 202.3 572.0 206.0 C566.5 209.7 561.3 213.8 557.0 219.0 C552.7 224.2 549.3 230.8 546.0 237.0 C542.7 243.2 540.0 249.2 537.0 256.0 C534.0 262.8 531.8 271.3 528.0 278.0 C524.2 284.7 518.7 290.8 514.0 296.0 C509.3 301.2 505.3 306.0 500.0 309.0 C494.7 312.0 487.4 312.2 482.0 314.0 C476.6 315.8 473.0 316.9 467.6 319.6 C462.2 322.3 455.0 326.5 449.6 330.4 C444.2 334.3 439.4 338.5 435.2 343.0 C431.0 347.5 427.7 352.0 424.4 357.4 C421.1 362.8 417.8 371.1 415.4 375.4 C413.0 379.7 410.9 381.7 410.0 383.0" stroke="#f7f7f7" stroke-width="3.6" /><path d="M410.0 383.0 C407.6 383.8 401.0 386.3 395.6 388.0 C390.2 389.7 383.0 391.2 377.6 393.4 C372.2 395.6 367.9 397.6 363.0 401.0 C358.1 404.4 352.5 409.5 348.5 414.0 C344.5 418.5 341.6 422.8 339.0 428.0 C336.4 433.2 334.5 438.7 333.0 445.0 C331.5 451.3 330.6 457.5 330.0 466.0 C329.4 474.5 329.3 485.7 329.5 496.0 C329.7 506.3 330.2 518.0 331.0 528.0 C331.8 538.0 332.8 548.7 334.0 556.0 C335.2 563.3 336.0 567.0 338.0 572.0 C340.0 577.0 342.7 581.7 346.0 586.0 C349.3 590.3 352.8 594.5 358.0 598.0 C363.2 601.5 370.0 604.3 377.0 607.0 C384.0 609.7 392.1 612.3 400.0 614.0 C407.9 615.7 415.7 616.7 424.5 617.0 C433.3 617.3 443.5 616.7 453.0 616.0 C462.5 615.3 472.0 614.0 481.5 613.0 C491.0 612.0 499.0 611.2 510.0 610.0 C521.0 608.8 536.5 605.8 547.5 606.0 C558.5 606.2 568.1 608.2 576.0 611.0 C583.9 613.8 590.0 619.5 595.0 623.0 C600.0 626.5 602.8 629.5 606.0 632.0 C609.2 634.5 611.1 637.3 614.0 638.0 C616.9 638.7 621.6 638.2 623.5 636.0 C625.4 633.8 626.4 628.7 625.4 624.6 C624.4 620.5 621.3 615.4 617.8 611.3 C614.3 607.2 609.9 603.5 604.5 600.0 C599.1 596.5 591.8 592.6 585.5 590.4 C579.2 588.2 574.4 587.2 566.5 586.6 C558.6 586.0 549.1 586.3 538.0 586.6 C526.9 586.9 511.0 587.8 500.0 588.5 C489.0 589.2 484.6 590.4 472.0 591.0 C459.4 591.6 437.8 592.8 424.5 592.0 C411.2 591.2 401.2 589.6 392.0 586.5 C382.8 583.4 374.9 577.6 369.4 573.2 C363.9 568.8 361.6 564.7 359.0 560.0 C356.4 555.3 355.2 549.7 354.0 545.0 C352.8 540.3 352.3 534.2 352.0 532.0" stroke="#f7f7f7" stroke-width="3.6" /><path d="M626.0 181.0 C626.2 182.8 627.2 187.5 627.0 192.0 C626.8 196.5 626.0 202.3 625.0 208.0 C624.0 213.7 622.3 220.7 621.0 226.0 C619.7 231.3 618.8 235.8 617.0 240.0 C615.2 244.2 613.2 248.2 610.0 251.0 C606.8 253.8 602.0 255.2 598.0 257.0 C594.0 258.8 589.7 260.5 586.0 262.0 C582.3 263.5 577.7 265.3 576.0 266.0" stroke="#f7f7f7" stroke-width="3.2" /><path d="M572.0 205.0 C572.0 209.2 571.8 222.5 572.0 230.0 C572.2 237.5 572.7 244.0 573.0 250.0 C573.3 256.0 573.8 263.3 574.0 266.0" stroke="#f7f7f7" stroke-width="3.6" /><path d="M575.0 266.0 C574.5 268.3 573.5 275.5 572.0 280.0 C570.5 284.5 568.2 288.5 566.0 293.0 C563.8 297.5 560.5 303.2 559.0 307.0 C557.5 310.8 557.3 314.5 557.0 316.0" stroke="#f7f7f7" stroke-width="3.2" /><path d="M531.0 270.0 C532.0 272.0 534.7 277.5 537.0 282.0 C539.3 286.5 542.5 292.5 545.0 297.0 C547.5 301.5 550.0 305.8 552.0 309.0 C554.0 312.2 556.2 314.8 557.0 316.0" stroke="#f7f7f7" stroke-width="3.2" /><path d="M557.0 316.0 C557.0 318.3 557.7 325.3 557.0 330.0 C556.3 334.7 554.5 339.7 553.0 344.0 C551.5 348.3 549.8 352.3 548.0 356.0 C546.2 359.7 544.0 363.0 542.0 366.0 C540.0 369.0 538.3 370.7 536.0 374.0 C533.7 377.3 531.0 382.0 528.0 386.0 C525.0 390.0 521.5 393.5 518.0 398.0 C514.5 402.5 510.7 408.0 507.0 413.0 C503.3 418.0 497.8 425.5 496.0 428.0" stroke="#f7f7f7" stroke-width="3.2" /><path d="M622.0 213.0 C625.2 211.7 635.0 207.2 641.0 205.0 C647.0 202.8 654.3 200.7 658.0 200.0 C661.7 199.3 662.5 199.2 663.0 201.0 C663.5 202.8 662.3 207.5 661.0 211.0 C659.7 214.5 657.8 217.8 655.0 222.0 C652.2 226.2 647.8 232.2 644.0 236.0 C640.2 239.8 636.2 242.5 632.0 245.0 C627.8 247.5 623.3 249.0 619.0 251.0 C614.7 253.0 608.2 256.0 606.0 257.0" stroke="#f7f7f7" stroke-width="3.2" /><path d="M658.0 222.0 C659.3 224.3 663.8 231.7 666.0 236.0 C668.2 240.3 669.8 243.2 671.0 248.0 C672.2 252.8 672.8 259.8 673.0 265.0 C673.2 270.2 671.7 274.8 672.0 279.0 C672.3 283.2 674.5 286.7 675.0 290.0 C675.5 293.3 675.8 295.8 675.0 299.0 C674.2 302.2 672.3 305.7 670.0 309.0 C667.7 312.3 664.5 315.5 661.0 319.0 C657.5 322.5 653.8 327.2 649.0 330.0 C644.2 332.8 636.8 334.7 632.0 336.0 C627.2 337.3 624.0 337.8 620.0 338.0 C616.0 338.2 612.0 337.0 608.0 337.0 C604.0 337.0 600.0 337.2 596.0 338.0 C592.0 338.8 588.0 340.3 584.0 341.6 C580.0 342.9 576.0 344.6 572.0 346.0 C568.0 347.4 564.0 348.2 560.0 350.0 C556.0 351.8 552.0 356.2 548.0 357.0 C544.0 357.8 541.0 355.6 536.0 355.0 C531.0 354.4 524.0 353.6 518.0 353.6 C512.0 353.6 505.3 354.4 500.0 355.0 C494.7 355.6 489.7 356.2 486.0 357.0 C482.3 357.8 479.3 359.5 478.0 360.0" stroke="#f7f7f7" stroke-width="3.6" /><path d="M622.0 338.0 C621.6 339.8 620.8 344.5 619.5 349.0 C618.2 353.5 615.3 358.8 614.0 365.0 C612.7 371.2 612.6 379.0 611.8 386.0 C611.0 393.0 610.1 400.7 609.0 407.0 C607.9 413.3 606.7 417.8 605.0 424.0 C603.3 430.2 600.8 438.0 599.0 444.0 C597.2 450.0 595.8 454.7 594.0 460.0 C592.2 465.3 589.8 471.5 588.0 476.0 C586.2 480.5 584.3 483.0 583.0 487.0 C581.7 491.0 580.6 495.7 580.0 500.0 C579.4 504.3 579.7 508.7 579.6 513.0 C579.5 517.3 579.0 522.2 579.6 526.0 C580.2 529.8 580.8 533.2 583.0 536.0 C585.2 538.8 589.3 540.9 593.0 542.7 C596.7 544.5 602.4 545.4 605.0 547.0 C607.6 548.6 608.5 550.2 608.8 552.6 C609.1 555.0 608.6 559.0 607.0 561.4 C605.4 563.8 601.9 566.1 599.4 567.0 C596.9 567.9 594.3 567.5 591.7 567.0 C589.1 566.5 586.3 564.7 584.0 564.0 C581.7 563.3 579.0 563.2 578.0 563.0" stroke="#f7f7f7" stroke-width="4.0" /><path d="M556.0 491.0 C558.0 490.6 563.8 489.2 568.0 488.5 C572.2 487.8 578.8 487.2 581.0 487.0" stroke="#f7f7f7" stroke-width="3.2" /><path d="M553.0 374.0 C552.2 373.2 549.8 370.3 548.0 369.0 C546.2 367.7 543.0 366.5 542.0 366.0" stroke="#f7f7f7" stroke-width="2.8000000000000003" /><path d="M574.0 438.0 C572.7 440.0 568.3 445.5 566.0 450.0 C563.7 454.5 561.7 460.0 560.0 465.0 C558.3 470.0 557.2 475.5 556.0 480.0 C554.8 484.5 554.7 488.8 553.0 492.0 C551.3 495.2 548.7 496.3 546.0 499.0 C543.3 501.7 539.7 504.8 537.0 508.0 C534.3 511.2 531.7 514.3 530.0 518.0 C528.3 521.7 527.3 525.5 527.0 530.0 C526.7 534.5 527.8 542.5 528.0 545.0" stroke="#f7f7f7" stroke-width="4.800000000000001" /><path d="M574.0 440.0 C572.8 442.0 569.0 447.7 567.0 452.0 C565.0 456.3 563.5 461.3 562.0 466.0 C560.5 470.7 558.7 477.7 558.0 480.0" stroke="#f7f7f7" stroke-width="6.4" /><path d="M553.0 490.0 C553.2 492.0 554.2 496.3 554.5 502.0 C554.8 507.7 554.4 516.7 554.5 524.0 C554.6 531.3 554.3 540.7 555.4 546.0 C556.5 551.3 558.4 553.2 561.0 556.0 C563.6 558.8 567.9 560.5 571.0 562.5 C574.1 564.5 577.6 566.2 579.6 568.0 C581.6 569.8 583.0 571.8 583.0 573.5 C583.0 575.2 582.2 577.0 579.6 578.0 C577.0 579.0 571.9 579.6 567.5 579.6 C563.1 579.6 556.9 578.8 553.0 578.0 C549.1 577.2 546.6 576.3 544.4 574.6 C542.2 572.9 541.4 570.8 540.0 568.0 C538.6 565.2 537.5 561.7 536.0 558.0 C534.5 554.3 531.8 548.0 531.0 546.0" stroke="#f7f7f7" stroke-width="4.0" /><path d="M522.6 449.0 C522.6 458.3 522.6 495.7 522.6 505.0" stroke="#f7f7f7" stroke-width="3.6" /><path d="M363.0 545.0 C365.3 546.0 370.0 549.2 377.0 551.0 C384.0 552.8 396.2 555.2 405.0 556.0 C413.8 556.8 423.3 556.5 430.0 556.0 C436.7 555.5 439.7 553.0 445.0 553.0 C450.3 553.0 455.8 554.7 462.0 556.0 C468.2 557.3 475.2 560.0 482.0 561.0 C488.8 562.0 497.0 562.5 503.0 562.0 C509.0 561.5 514.0 559.7 518.0 558.0 C522.0 556.3 524.8 554.2 527.0 552.0 C529.2 549.8 530.3 546.2 531.0 545.0" stroke="#f7f7f7" stroke-width="3.2" /><path d="M383.0 493.0 C383.5 495.8 385.0 504.2 386.0 510.0 C387.0 515.8 387.7 522.7 389.0 528.0 C390.3 533.3 391.7 537.5 394.0 542.0 C396.3 546.5 401.5 552.8 403.0 555.0" stroke="#f7f7f7" stroke-width="5.2" /><path d="M359.0 406.0 C358.7 408.3 357.5 415.3 357.0 420.0 C356.5 424.7 355.8 429.0 356.0 434.0 C356.2 439.0 356.7 444.8 358.0 450.0 C359.3 455.2 361.5 460.3 364.0 465.0 C366.5 469.7 370.3 474.2 373.0 478.0 C375.7 481.8 378.8 486.3 380.0 488.0" stroke="#f7f7f7" stroke-width="3.2" /><path d="M412.0 384.0 C410.8 387.5 407.2 398.3 405.0 405.0 C402.8 411.7 400.6 417.8 399.0 424.0 C397.4 430.2 396.8 436.0 395.6 442.0 C394.4 448.0 393.3 454.3 392.0 460.0 C390.7 465.7 389.3 471.0 388.0 476.0 C386.7 481.0 384.7 487.7 384.0 490.0" stroke="#f7f7f7" stroke-width="3.2" /><path d="M481.0 318.0 C480.0 320.7 477.0 328.3 475.0 334.0 C473.0 339.7 471.2 346.0 469.0 352.0 C466.8 358.0 464.7 364.0 462.0 370.0 C459.3 376.0 456.3 382.0 453.0 388.0 C449.7 394.0 446.2 400.3 442.0 406.0 C437.8 411.7 432.7 417.5 428.0 422.0 C423.3 426.5 417.8 429.7 414.0 433.0 C410.2 436.3 407.5 437.8 405.0 442.0 C402.5 446.2 400.0 455.3 399.0 458.0" stroke="#f7f7f7" stroke-width="3.2" /><path d="M481.0 316.0 C480.8 320.0 480.0 331.3 480.0 340.0 C480.0 348.7 480.3 358.7 481.0 368.0 C481.7 377.3 482.7 387.3 484.0 396.0 C485.3 404.7 487.7 413.5 489.0 420.0 C490.3 426.5 491.7 429.2 492.0 435.0 C492.3 440.8 491.5 448.3 491.0 455.0 C490.5 461.7 489.8 468.8 489.0 475.0 C488.2 481.2 487.5 486.5 486.0 492.0 C484.5 497.5 481.0 505.3 480.0 508.0" stroke="#f7f7f7" stroke-width="4.0" /><path d="M496.0 428.0 C496.2 430.8 497.0 438.8 497.0 445.0 C497.0 451.2 496.7 458.3 496.0 465.0 C495.3 471.7 494.2 479.2 493.0 485.0 C491.8 490.8 489.7 497.5 489.0 500.0" stroke="#f7f7f7" stroke-width="3.2" /><path d="M372.0 524.0 C373.3 524.5 377.2 526.3 380.0 527.0 C382.8 527.7 387.5 527.8 389.0 528.0" stroke="#f7f7f7" stroke-width="2.8000000000000003" /><path d="M596.0 259.0 C597.7 260.2 602.5 263.2 606.0 266.0 C609.5 268.8 615.2 274.3 617.0 276.0" stroke="#f7f7f7" stroke-width="3.6" /><path d="M624.1 186.0 C621.8 187.2 615.9 190.8 610.4 193.2 C605.0 195.6 597.5 197.6 591.4 200.2 C585.3 202.8 579.2 205.4 573.9 208.9 C568.7 212.4 563.8 216.3 559.7 221.2 C555.5 226.2 552.3 232.6 549.1 238.7 C545.8 244.7 543.2 250.6 540.2 257.4 C537.2 264.3 535.0 272.9 531.0 279.7 C527.1 286.6 521.5 293.0 516.6 298.3 C511.7 303.7 507.3 308.9 501.7 312.1 C496.1 315.2 488.5 315.5 483.1 317.3 C477.7 319.1 474.4 320.1 469.2 322.7 C463.9 325.4 456.9 329.5 451.6 333.2 C446.4 337.0 441.8 341.1 437.8 345.4 C433.7 349.7 430.6 353.9 427.4 359.2 C424.2 364.5 420.5 373.4 418.5 377.1 C416.4 380.9 415.7 381.0 415.2 381.8" stroke="#1a1a1a" stroke-width="2.6" /><path d="M407.5 387.9 C405.7 388.6 401.5 390.2 396.8 391.7 C392.0 393.2 384.3 394.9 379.0 397.0 C373.8 399.1 369.8 400.9 365.2 404.1 C360.6 407.4 355.2 412.3 351.4 416.6 C347.6 420.8 344.9 424.8 342.4 429.7 C340.0 434.6 338.2 439.8 336.7 445.9 C335.3 452.0 334.4 457.9 333.8 466.3 C333.3 474.6 333.2 485.7 333.3 495.9 C333.5 506.2 334.1 517.8 334.8 527.7 C335.6 537.6 336.7 548.3 337.8 555.4 C338.9 562.5 339.7 565.9 341.6 570.6 C343.4 575.3 346.0 579.6 349.1 583.7 C352.1 587.7 355.3 591.5 360.2 594.8 C365.0 598.1 371.6 600.8 378.4 603.4 C385.1 606.0 393.7 608.7 400.8 610.2 C407.9 611.8 417.6 612.3 421.0 612.7" stroke="#1a1a1a" stroke-width="1.9" /><path d="M404.4 610.6 C407.8 611.0 416.6 612.9 424.6 613.1 C432.7 613.4 443.3 612.8 452.7 612.1 C462.1 611.4 471.6 610.1 481.1 609.1 C490.6 608.1 498.5 607.3 509.6 606.1 C520.7 605.0 536.3 601.9 547.6 602.1 C558.8 602.3 569.0 604.4 577.3 607.3 C585.6 610.3 592.1 616.2 597.2 619.8 C602.4 623.4 605.5 626.5 608.4 628.9 C611.4 631.3 612.9 633.4 614.9 634.2 C616.9 635.0 619.4 634.9 620.5 633.5 C621.7 632.0 622.6 628.8 621.6 625.5 C620.6 622.2 618.0 617.5 614.8 613.8 C611.6 610.1 607.5 606.6 602.4 603.3 C597.3 600.0 590.2 596.2 584.2 594.1 C578.2 591.9 573.9 591.1 566.2 590.5 C558.5 589.9 549.1 590.2 538.1 590.5 C527.1 590.8 511.2 591.7 500.3 592.4 C489.3 593.1 484.8 594.3 472.2 594.9 C459.5 595.5 437.9 596.7 424.3 595.9 C410.7 595.1 400.3 593.5 390.7 590.2 C381.2 586.9 372.8 581.0 367.0 576.2 C361.1 571.5 358.4 566.9 355.6 561.9 C352.8 556.8 351.4 550.2 350.2 545.9 C349.1 541.7 349.0 538.1 348.8 536.5" stroke="#555" stroke-width="1.8" /><path d="M623.0 185.3 C623.1 186.4 623.8 188.2 623.6 191.9 C623.4 195.6 622.6 201.9 621.7 207.4 C620.7 213.0 619.0 220.0 617.7 225.2 C616.4 230.4 615.5 234.7 613.9 238.6 C612.2 242.5 610.6 245.9 607.7 248.5 C604.8 251.0 600.4 252.2 596.6 253.9 C592.7 255.6 587.7 257.6 584.7 258.9 C581.7 260.1 579.5 260.9 578.5 261.4" stroke="#1a1a1a" stroke-width="1.8" /><path d="M575.9 209.0 C575.9 212.5 575.7 223.1 575.9 229.9 C576.1 236.7 576.6 244.5 576.9 249.8 C577.2 255.1 577.5 259.8 577.6 261.8" stroke="#1a1a1a" stroke-width="1.8" /><path d="M570.8 269.2 C570.5 270.8 570.1 275.2 568.8 278.9 C567.5 282.6 565.1 287.1 562.9 291.5 C560.8 296.0 557.2 302.5 555.8 305.8 C554.4 309.1 554.8 310.4 554.6 311.4" stroke="#1a1a1a" stroke-width="1.8" /><path d="M529.7 275.1 C530.5 276.5 531.9 279.6 534.0 283.6 C536.0 287.5 539.5 294.1 542.0 298.7 C544.6 303.2 547.5 308.1 549.1 310.8 C550.8 313.5 551.4 314.1 551.9 314.7" stroke="#1a1a1a" stroke-width="1.8" /><path d="M553.5 320.0 C553.5 321.6 554.2 325.7 553.5 329.5 C552.9 333.3 551.1 338.7 549.7 342.9 C548.2 347.0 546.6 350.9 544.9 354.4 C543.1 358.0 540.6 361.7 539.1 364.1 C537.5 366.4 536.2 367.9 535.6 368.7" stroke="#1a1a1a" stroke-width="1.6" /><path d="M627.0 214.6 C629.5 213.6 636.9 210.1 642.2 208.2 C647.4 206.4 655.7 204.5 658.6 203.4 C661.5 202.3 659.8 200.8 659.7 201.9 C659.5 203.0 659.0 206.7 657.8 209.8 C656.5 212.8 654.8 216.1 652.1 220.1 C649.4 224.0 645.2 229.9 641.6 233.6 C637.9 237.2 634.2 239.7 630.2 242.0 C626.2 244.4 621.2 246.2 617.6 247.9 C613.9 249.6 609.7 251.5 608.2 252.2" stroke="#1a1a1a" stroke-width="1.7" /><path d="M671.2 294.0 C671.2 294.7 672.0 295.9 671.2 298.0 C670.5 300.1 669.0 303.7 666.8 306.8 C664.6 309.8 661.5 312.9 658.2 316.2 C654.9 319.6 651.6 324.0 647.0 326.6 C642.5 329.3 634.9 331.1 631.0 332.2 C627.0 333.4 624.6 333.3 623.3 333.5" stroke="#1a1a1a" stroke-width="1.8" /><path d="M599.7 426.6 C598.9 429.3 596.5 437.4 594.8 442.7 C593.2 448.1 591.7 453.3 589.9 458.6 C588.1 463.9 585.8 469.9 584.0 474.4 C582.1 478.9 580.3 481.4 578.9 485.6 C577.5 489.8 576.3 494.9 575.7 499.4 C575.1 504.0 575.3 508.4 575.3 512.9 C575.2 517.5 574.6 522.3 575.3 526.6 C576.0 530.9 577.0 535.4 579.6 538.7 C582.2 542.0 587.2 544.6 591.1 546.6 C594.9 548.6 600.5 549.6 602.7 550.7 C604.9 551.8 604.4 551.8 604.5 553.2 C604.6 554.6 604.5 557.4 603.4 559.0 C602.3 560.6 599.7 562.3 597.9 562.9 C596.1 563.5 594.6 563.2 592.5 562.7 C590.4 562.2 586.9 560.4 585.2 559.8 C583.6 559.3 583.1 559.5 582.7 559.4" stroke="#1a1a1a" stroke-width="1.9" /><path d="M567.3 438.3 C566.3 439.9 563.3 443.4 561.2 447.5 C559.1 451.7 556.6 458.1 554.9 463.3 C553.1 468.5 551.9 474.3 550.8 478.6 C549.7 483.0 549.7 486.7 548.2 489.5 C546.8 492.2 544.7 492.7 542.2 495.2 C539.6 497.7 535.7 501.1 532.9 504.5 C530.0 508.0 527.0 511.6 525.1 515.8 C523.2 519.9 522.1 525.3 521.6 529.6 C521.2 533.9 522.2 539.4 522.4 541.4" stroke="#1a1a1a" stroke-width="1.8" /><path d="M557.9 493.4 C558.0 494.8 558.7 496.7 558.9 501.8 C559.1 506.9 558.8 516.7 558.9 523.9 C559.0 531.1 558.8 540.3 559.7 545.1 C560.6 550.0 561.9 550.7 564.2 553.0 C566.5 555.3 570.3 556.8 573.4 558.8 C576.4 560.8 580.7 563.3 582.6 564.8 C584.4 566.3 584.2 567.3 584.6 567.8" stroke="#1a1a1a" stroke-width="1.8" /><path d="M361.8 410.4 C361.6 412.1 360.8 416.5 360.4 420.4 C360.0 424.3 359.3 429.1 359.4 433.9 C359.6 438.7 360.1 444.2 361.3 449.1 C362.6 454.1 364.6 458.9 367.0 463.4 C369.5 467.9 373.6 472.8 375.8 476.0 C378.1 479.3 379.7 481.6 380.5 482.7" stroke="#1a1a1a" stroke-width="1.7" /><path d="M407.5 386.7 C406.5 389.6 403.7 397.9 401.7 403.9 C399.8 410.0 397.2 416.9 395.7 423.2 C394.1 429.4 393.4 435.3 392.2 441.3 C391.0 447.4 389.9 453.6 388.6 459.2 C387.4 464.9 385.8 470.8 384.7 475.1 C383.5 479.4 382.3 483.5 381.8 485.2" stroke="#1a1a1a" stroke-width="1.7" /><path d="M482.8 322.9 C482.0 325.0 480.0 330.1 478.2 335.1 C476.4 340.2 474.4 347.1 472.2 353.2 C470.0 359.2 467.8 365.3 465.1 371.4 C462.4 377.5 459.4 383.5 456.0 389.7 C452.6 395.8 449.0 402.2 444.7 408.0 C440.5 413.8 435.1 419.9 430.4 424.4 C425.6 429.0 420.0 432.3 416.2 435.6 C412.5 438.8 410.0 440.4 407.9 443.7 C405.8 447.1 404.3 453.5 403.6 455.4" stroke="#1a1a1a" stroke-width="1.8" /><path d="M476.3 319.8 C476.1 323.2 475.4 331.9 475.4 340.0 C475.5 348.1 475.8 358.9 476.5 368.3 C477.1 377.8 478.2 387.9 479.5 396.7 C480.8 405.5 483.2 414.5 484.5 420.9 C485.9 427.3 487.1 429.6 487.5 435.3 C487.8 440.9 487.0 448.1 486.5 454.7 C486.0 461.2 485.3 468.4 484.5 474.4 C483.7 480.4 482.8 486.1 481.6 490.8 C480.4 495.5 477.9 500.7 477.1 502.7" stroke="#444" stroke-width="1.5" /></g></g></g><circle cx="487.5" cy="286" r="20.8" fill="none" stroke="#a6a6a6" stroke-width="8"/><circle cx="487.5" cy="286" r="20.8" fill="none" stroke="#efefef" stroke-width="6"/><path d="M476 267 A20.5 20.5 0 0 0 478 304" fill="none" stroke="#111" stroke-width="2.4"/><rect x="477.8" y="194.4" width="21.4" height="94.3" rx="10.5" fill="#f3f3f3" stroke="#9a9a9a" stroke-width="1"/><path d="M479.8 206 C479.3 230 479.6 255 480.6 268" fill="none" stroke="#333" stroke-width="1.8"/><path d="M495.5 205 C496 230 495.8 260 495.5 280" fill="none" stroke="#555" stroke-width="1.3"/><path d="M480 262 C483 257 493 257 496.5 262 L497.5 280 C497 287 492 289 488.5 289 C484 289 480 287 479.5 281 Z" fill="#2a2a2a"/><ellipse cx="488.5" cy="272" rx="6" ry="6" fill="#e8e8e8"/><path d="M485 272 L492 272 L491 278 L486 278 Z" fill="#111"/><ellipse cx="488.5" cy="284" rx="6" ry="1.6" fill="#8a8a8a"/><path d="M566 307 C572 299 582 300 586 303 C590 305 594 304 597 305 C593 312 585 316 576 315 C570 314 567 311 566 307Z" fill="#dcb040" stroke="#a87e20" stroke-width="1"/><path d="M429 431 C437 426 446 432 452 436 C457 440 462 442 465 445 C458 448 448 447 442 444 C437 440 433 435 429 431Z" fill="#dcb040" stroke="#a87e20" stroke-width="1"/><path d="M339 486 C340 476 349 468 359 467 C362 467 365 468 366 469 C358 472 350 479 346 487 Z" fill="#dcb040" stroke="#a87e20" stroke-width="1"/><path d="M536 459 C541 463 546 470 546 477 C545 481 544 484 543 485 C539 480 536 472 536 459Z" fill="#dcb040" stroke="#a87e20" stroke-width="1"/><g transform="translate(429.5,502) rotate(43)"><ellipse rx="50" ry="33.5" fill="#8dbd2a" stroke="#5e7a18" stroke-width="1.2"/><ellipse cx="2" cy="2" rx="30" ry="18" fill="#aacf5a"/><path d="M-22 -10 L0 -16 L18 -8 L10 8 L-12 6Z" fill="#c2de86"/><path d="M-8 4 L14 2 L24 14 L2 16Z" fill="#b4d66c"/><path d="M14 -30 L30 -26 L34 -14 L22 -16Z" fill="#4c5414"/><path d="M38 -14 L47 -4 L44 10 L36 2Z" fill="#555c16"/><path d="M22 18 L40 12 L34 26 L20 28Z" fill="#4a5212"/><path d="M-44 -6 L-34 -20 L-30 -8Z" fill="#5a6818"/><path d="M-36 8 L-24 14 L-30 22Z" fill="#506016"/><path d="M-20 -30 L-6 -32 L-12 -24Z" fill="#6a8020"/><path d="M-4 24 L8 22 L4 32Z" fill="#6c8422"/><path d="M-30 -22 L-18 -28 L-20 -16Z M26 -6 L34 -8 L30 2Z" fill="#d2eaa0"/></g><g transform="translate(500.5,531.5)"><circle r="26.5" fill="#8248bc" stroke="#6a3a9a" stroke-width="1"/><path d="M0 -14 L4 -5 L14 -4 L7 3 L9 13 L0 8 L-9 13 L-7 3 L-14 -4 L-4 -5Z" fill="#b68ae0"/><path d="M-24 -8 L-14 -20 L-10 -10Z M20 -14 L25 0 L14 -6Z M-18 15 L-6 22 L-14 22Z M14 18 L22 10 L20 20Z" fill="#5a2590"/></g><g transform="translate(637.5,274)"><circle r="16.8" fill="#8650bd" stroke="#5e3290" stroke-width="1"/><path d="M0 -9 L3 -3 L9 -2 L4 2 L6 8 L0 5 L-6 8 L-4 2 L-9 -2 L-3 -3Z" fill="#b085dd"/><path d="M-15 -4 L-8 -13 L-6 -6Z M12 -10 L16 0 L9 -4Z M-10 11 L-2 15 L-9 14Z" fill="#572a88"/></g><g transform="translate(358.3,508.8)"><circle r="21" fill="#55b8ea" stroke="#3a8cc0" stroke-width="1"/><circle r="11" fill="#8fd2f4"/><path d="M-18 -8 L-8 -16 L-6 -6Z M8 -17 L17 -6 L8 -5Z M-15 10 L-5 18 L-4 8Z M8 8 L16 12 L8 18Z" fill="#2f8fd0"/></g><g transform="translate(573,405)"><path d="M0 30 C-14 20 -31 6 -31 -12 C-31 -26 -20 -31 -11 -31 C-5 -31 -2 -28 0 -25 C2 -28 5 -31 11 -31 C20 -31 31 -26 31 -12 C31 6 14 20 0 30Z" fill="#a4cff0" stroke="#8fa8c8" stroke-width="1"/><path d="M-12 -26 L-5 -22 L-3 -10 L-8 -14Z M-25 -16 L-16 -14 L-20 -6Z M-10 10 L0 6 L-2 18 L-8 16Z M6 -4 L18 -6 L14 2Z M10 14 L16 8 L14 20Z M-2 20 L3 18 L1 28Z M14 -24 L22 -20 L16 -14Z M-22 4 L-16 2 L-18 10Z" fill="#213f96"/><path d="M-28 -8 L-16 -12 L-20 2Z M2 -8 L12 -4 L6 6Z M-6 -18 L2 -14 L-4 -6Z M-14 -2 L-6 0 L-10 8Z M18 -14 L26 -12 L22 -4Z" fill="#dcedfb"/><path d="M16 6 L26 0 L20 14Z M-22 10 L-14 14 L-18 4Z M-4 -2 L4 0 L0 8Z M4 14 L10 12 L6 22Z" fill="#5d9ad8"/></g><circle cx="417" cy="454" r="6.5" fill="#f3f3f3" stroke="#9b9b9b" stroke-width="1.2"/><circle cx="415.5" cy="453.5" r="1.6" fill="#707070"/><circle cx="383" cy="493" r="6.5" fill="#f3f3f3" stroke="#9b9b9b" stroke-width="1.2"/><circle cx="381.5" cy="492.5" r="1.6" fill="#707070"/><circle cx="445" cy="549" r="6.5" fill="#f3f3f3" stroke="#9b9b9b" stroke-width="1.2"/><circle cx="443.5" cy="548.5" r="1.6" fill="#707070"/><circle cx="478" cy="511" r="6.5" fill="#f3f3f3" stroke="#9b9b9b" stroke-width="1.2"/><circle cx="476.5" cy="510.5" r="1.6" fill="#707070"/><circle cx="522" cy="514" r="6.5" fill="#f3f3f3" stroke="#9b9b9b" stroke-width="1.2"/><circle cx="520.5" cy="513.5" r="1.6" fill="#707070"/><circle cx="478" cy="549" r="6.5" fill="#f3f3f3" stroke="#9b9b9b" stroke-width="1.2"/><circle cx="476.5" cy="548.5" r="1.6" fill="#707070"/><circle cx="516" cy="551" r="6.5" fill="#f3f3f3" stroke="#9b9b9b" stroke-width="1.2"/><circle cx="514.5" cy="550.5" r="1.6" fill="#707070"/><circle cx="343" cy="492" r="6.5" fill="#f3f3f3" stroke="#9b9b9b" stroke-width="1.2"/><circle cx="341.5" cy="491.5" r="1.6" fill="#707070"/><circle cx="339" cy="522" r="6.5" fill="#f3f3f3" stroke="#9b9b9b" stroke-width="1.2"/><circle cx="337.5" cy="521.5" r="1.6" fill="#707070"/><circle cx="372" cy="524" r="6.5" fill="#f3f3f3" stroke="#9b9b9b" stroke-width="1.2"/><circle cx="370.5" cy="523.5" r="1.6" fill="#707070"/><circle cx="636" cy="253" r="6.5" fill="#f3f3f3" stroke="#9b9b9b" stroke-width="1.2"/><circle cx="634.5" cy="252.5" r="1.6" fill="#707070"/><circle cx="618" cy="278" r="6.5" fill="#f3f3f3" stroke="#9b9b9b" stroke-width="1.2"/><circle cx="616.5" cy="277.5" r="1.6" fill="#707070"/><circle cx="652.5" cy="286.5" r="6.5" fill="#f3f3f3" stroke="#9b9b9b" stroke-width="1.2"/><circle cx="651.0" cy="286.0" r="1.6" fill="#707070"/><circle cx="553" cy="376" r="6.5" fill="#f3f3f3" stroke="#9b9b9b" stroke-width="1.2"/><circle cx="551.5" cy="375.5" r="1.6" fill="#707070"/><circle cx="600" cy="387" r="6.5" fill="#f3f3f3" stroke="#9b9b9b" stroke-width="1.2"/><circle cx="598.5" cy="386.5" r="1.6" fill="#707070"/><circle cx="576" cy="436" r="6.5" fill="#f3f3f3" stroke="#9b9b9b" stroke-width="1.2"/><circle cx="574.5" cy="435.5" r="1.6" fill="#707070"/><g fill="none" stroke="#111" stroke-width="1.9" stroke-dasharray="2.6 1.6"><polyline points="331.4,228.6 391,228.6"/><polyline points="331.2,326 399,326"/><polyline points="225,390.2 300.2,390.2"/><polyline points="183.3,534.5 183.3,506.6 361,506.6"/></g><g fill="none" stroke="#1a1a1a" stroke-width="1.6" stroke-dasharray="2.4 1.6"><polyline points="391,228.6 639,278.5"/><polyline points="399,326 576,401"/><polyline points="300.2,390.2 421,484"/></g><g fill="none" stroke="#161616" stroke-width="1.7" stroke-dasharray="2.2 2.0"><line x1="309" y1="675" x2="687" y2="675"/><line x1="320" y1="639" x2="320" y2="687"/><line x1="675.5" y1="638.5" x2="675.5" y2="686"/><line x1="772" y1="172" x2="772" y2="647"/><line x1="691" y1="182" x2="783" y2="182"/><line x1="691" y1="637.5" x2="783" y2="637.5"/></g></svg>
<div style="position:absolute;left:225.2px;top:212.00px;font-size:25.79px;line-height:25.79px;font-family:'Liberation Serif', serif;white-space:nowrap;will-change:transform;color:#050505;">Amethyst</div><div style="position:absolute;left:181.6px;top:291.69px;font-size:26.22px;line-height:26.22px;font-family:'Liberation Serif', serif;white-space:nowrap;will-change:transform;color:#050505;">Sky Blue Topaz</div><div style="position:absolute;left:181.6px;top:320.76px;font-size:25.72px;line-height:25.72px;font-family:'Liberation Serif', serif;white-space:nowrap;will-change:transform;color:#050505;">Size: 4*4mm</div><div style="position:absolute;left:122.0px;top:368.90px;font-size:25.79px;line-height:25.79px;font-family:'Liberation Serif', serif;white-space:nowrap;will-change:transform;color:#050505;">Peridot</div><div style="position:absolute;left:121.3px;top:398.07px;font-size:25.71px;line-height:25.71px;font-family:'Liberation Serif', serif;white-space:nowrap;will-change:transform;color:#050505;">Size: 4*6mm</div><div style="position:absolute;left:112.4px;top:539.65px;font-size:26.21px;line-height:26.21px;font-family:'Liberation Serif', serif;white-space:nowrap;will-change:transform;color:#050505;">Swiss Blue Topaz</div><div style="position:absolute;left:112.4px;top:568.84px;font-size:25.74px;line-height:25.74px;font-family:'Liberation Serif', serif;white-space:nowrap;will-change:transform;color:#050505;">Size: 2.5*2.5mm</div><div style="position:absolute;left:779.5px;top:397.00px;font-size:25.4px;line-height:25.40px;font-family:'Liberation Sans', sans-serif;white-space:nowrap;will-change:transform;color:#050505;letter-spacing:1.13px;color:#333;">28.32mm</div><div style="position:absolute;left:448.0px;top:684.62px;font-size:24.9px;line-height:24.90px;font-family:'Liberation Sans', sans-serif;white-space:nowrap;will-change:transform;color:#050505;letter-spacing:0.78px;color:#333;">19.72mm</div><div style="position:absolute;left:48.5px;top:785.98px;font-size:26.05px;line-height:26.05px;font-family:'Liberation Serif', serif;white-space:nowrap;will-change:transform;color:#050505;">Main Stone: Natural Peridot</div><div style="position:absolute;left:47.7px;top:820.05px;font-size:25.97px;line-height:25.97px;font-family:'Liberation Serif', serif;white-space:nowrap;will-change:transform;color:#050505;">Metal: 925 Sterling Silver + Gold Plated</div><div style="position:absolute;left:47.9px;top:851.92px;font-size:26.13px;line-height:26.13px;font-family:'Liberation Serif', serif;white-space:nowrap;will-change:transform;color:#050505;">Главный камень: Натуральный перидот</div><div style="position:absolute;left:46.5px;top:883.83px;font-size:26.0px;line-height:26.00px;font-family:'Liberation Serif', serif;white-space:nowrap;will-change:transform;color:#050505;">Металл: Серебро 925 пробы + позолота</div><div style="position:absolute;left:47.3px;top:919.69px;font-size:25.2px;line-height:25.20px;font-family:'Liberation Serif', serif;white-space:nowrap;will-change:transform;color:#050505;letter-spacing:-0.12px;">TIPS: MANUAL MEASURING PERMISSIBLE ERROR</div>
</body></html>
